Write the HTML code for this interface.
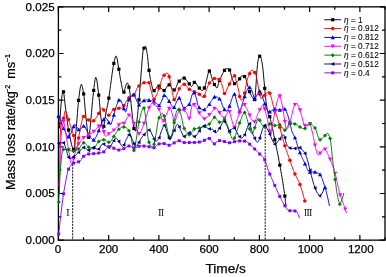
<!DOCTYPE html>
<html><head><meta charset="utf-8"><title>Mass loss rate</title>
<style>html,body{margin:0;padding:0;background:#fff;}body{width:386px;height:277px;overflow:hidden;position:relative;}</style>
</head><body>
<svg width="386" height="277" viewBox="0 0 386 277" style="position:absolute;left:0;top:0;display:block">
<rect x="0" y="0" width="386" height="277" fill="#fff"/>
<rect x="58.4" y="6.85" width="326.6" height="233.3" fill="none" stroke="#000" stroke-width="1.3"/>
<path d="M58.4,240.15 v-5.2 M58.4,6.85 v5.2 M83.52,240.15 v-3.0 M83.52,6.85 v3.0 M108.65,240.15 v-5.2 M108.65,6.85 v5.2 M133.77,240.15 v-3.0 M133.77,6.85 v3.0 M158.89,240.15 v-5.2 M158.89,6.85 v5.2 M184.02,240.15 v-3.0 M184.02,6.85 v3.0 M209.14,240.15 v-5.2 M209.14,6.85 v5.2 M234.26,240.15 v-3.0 M234.26,6.85 v3.0 M259.38,240.15 v-5.2 M259.38,6.85 v5.2 M284.51,240.15 v-3.0 M284.51,6.85 v3.0 M309.63,240.15 v-5.2 M309.63,6.85 v5.2 M334.75,240.15 v-3.0 M334.75,6.85 v3.0 M359.88,240.15 v-5.2 M359.88,6.85 v5.2 M385,240.15 v-3.0 M385,6.85 v3.0 M58.4,240.15 h5.2 M385.0,240.15 h-5.2 M58.4,216.82 h3.0 M385.0,216.82 h-3.0 M58.4,193.49 h5.2 M385.0,193.49 h-5.2 M58.4,170.16 h3.0 M385.0,170.16 h-3.0 M58.4,146.83 h5.2 M385.0,146.83 h-5.2 M58.4,123.5 h3.0 M385.0,123.5 h-3.0 M58.4,100.17 h5.2 M385.0,100.17 h-5.2 M58.4,76.84 h3.0 M385.0,76.84 h-3.0 M58.4,53.51 h5.2 M385.0,53.51 h-5.2 M58.4,30.18 h3.0 M385.0,30.18 h-3.0 M58.4,6.85 h5.2 M385.0,6.85 h-5.2" stroke="#000" stroke-width="1.2" fill="none"/>
<g stroke="#000" stroke-width="0.95" stroke-dasharray="2.1 1.05" fill="none">
<line x1="72.7" y1="164" x2="72.7" y2="240.15"/>
<line x1="265.2" y1="124" x2="265.2" y2="240.15"/>
</g>
<path d="M59.5,128 L60,118.9 L60.5,110.99 L61,105 L61.5,100.18 L62,95.78 L62.5,92.44 L63,90.85 L63.5,91.68 L64,94.74 L64.5,99.11 L65,103.84 L65.5,108 L66,111.7 L66.5,115.56 L67,119.44 L67.5,123.19 L68,126.65 L68.5,129.69 L69,132.24 L69.5,134.77 L70,137.31 L70.5,139.78 L71,142.11 L71.5,144.24 L72,146.09 L72.5,147.59 L73,148.69 L73.5,149.3 L74,149.16 L74.5,146.72 L75,142.28 L75.5,136.65 L76,130.63 L76.5,125 L77,119.16 L77.5,112.61 L78,106.33 L78.5,101.3 L79,97.11 L79.5,92.97 L80,89.25 L80.5,86.34 L81,84.61 L81.5,84.4 L82,85.48 L82.5,87.48 L83,90.09 L83.5,93.01 L84,96.37 L84.5,101.33 L85,107.19 L85.5,113.05 L86,118 L86.5,122.47 L87,127.15 L87.5,131.5 L88,135 L88.5,137.12 L89,137.2 L89.5,134.29 L90,129.27 L90.5,123.42 L91,118 L91.5,112.85 L92,107.29 L92.5,101.74 L93,96.65 L93.5,92.31 L94,87.81 L94.5,83.44 L95,79.83 L95.5,77.61 L96,77.34 L96.5,78.77 L97,81.44 L97.5,84.99 L98,89.04 L98.5,93.2 L99,97.28 L99.5,102.37 L100,108.06 L100.5,113.55 L101,118 L101.5,121.87 L102,125.58 L102.5,128.23 L103,128.96 L103.5,127.66 L104,125 L104.5,121.59 L105,118.05 L105.5,115 L106,112.5 L106.5,110.12 L107,107.78 L107.5,105.37 L108,102.81 L108.5,100 L109,96.79 L109.5,93.2 L110,89.42 L110.5,85.62 L111,82 L111.5,78.39 L112,74.67 L112.5,71.04 L113,67.74 L113.5,64.97 L114,62.63 L114.5,60.28 L115,58.2 L115.5,56.65 L116,55.92 L116.5,56.41 L117,58.25 L117.5,60.97 L118,64.1 L118.5,67.19 L119,69.98 L119.5,73.08 L120,76.29 L120.5,79.36 L121,82 L121.5,84.48 L122,87.05 L122.5,89.39 L123,91.21 L123.5,92.2 L124,92 L124.5,90.48 L125,88.34 L125.5,86.33 L126,85.07 L126.5,84.02 L127,83.23 L127.5,83.02 L128,83.79 L128.5,85.41 L129,87.58 L129.5,90 L130,93.4 L130.5,98.13 L131,103.3 L131.5,108 L132,112.5 L132.5,117.32 L133,121.96 L133.5,125.93 L134,128.71 L134.5,129.96 L135,130.7 L135.5,131 L136,129.09 L136.5,124.73 L137,120 L137.5,115.48 L138,110.47 L138.5,105.13 L139,99.6 L139.5,93.7 L140,87.4 L140.5,81.05 L141,75 L141.5,68.67 L142,61.93 L142.5,55.83 L143,51.41 L143.5,49.45 L144,48.23 L144.5,47.26 L145,46.6 L145.5,46.31 L146,47.03 L146.5,49.47 L147,52.7 L147.5,56.28 L148,61.17 L148.5,66.16 L149,70.09 L149.5,73.6 L150,76.81 L150.5,79.65 L151,82 L151.5,84.14 L152,86.26 L152.5,88.16 L153,89.66 L153.5,90.54 L154,90.67 L154.5,90.38 L155,89.84 L155.5,89.13 L156,88.33 L156.5,87.52 L157,86.79 L157.5,86.21 L158,85.86 L158.5,85.82 L159,86.03 L159.5,86.42 L160,86.92 L160.5,87.48 L161,88.02 L161.5,88.5 L162,88.99 L162.5,89.54 L163,90.06 L163.5,90.45 L164,90.6 L164.5,90.38 L165,89.8 L165.5,89.03 L166,88.22 L166.5,87.5 L167,86.78 L167.5,85.98 L168,85.26 L168.5,84.79 L169,84.73 L169.5,85.03 L170,85.57 L170.5,86.23 L171,86.91 L171.5,87.5 L172,88.09 L172.5,88.75 L173,89.36 L173.5,89.82 L174,90 L174.5,89.8 L175,89.27 L175.5,88.46 L176,87.45 L176.5,86.33 L177,85.15 L177.5,83.99 L178,82.93 L178.5,82.05 L179,81.4 L179.5,80.9 L180,80.39 L180.5,79.9 L181,79.44 L181.5,79.02 L182,78.65 L182.5,78.36 L183,78.14 L183.5,78.02 L184,78.02 L184.5,78.18 L185,78.5 L185.5,78.94 L186,79.49 L186.5,80.11 L187,80.77 L187.5,81.46 L188,82.13 L188.5,82.76 L189,83.39 L189.5,84.2 L190,85.06 L190.5,85.82 L191,86.35 L191.5,86.49 L192,86.13 L192.5,85.39 L193,84.45 L193.5,83.49 L194,82.7 L194.5,82.25 L195,82.26 L195.5,82.62 L196,83.21 L196.5,83.97 L197,84.83 L197.5,85.7 L198,86.51 L198.5,87.19 L199,87.7 L199.5,88.23 L200,88.76 L200.5,89.27 L201,89.72 L201.5,90.08 L202,90.31 L202.5,90.4 L203,90.17 L203.5,89.56 L204,88.7 L204.5,87.7 L205,86.43 L205.5,84.52 L206,82.32 L206.5,80.14 L207,78.26 L207.5,76.2 L208,74.1 L208.5,72.32 L209,71.21 L209.5,71.07 L210,71.81 L210.5,73.16 L211,74.88 L211.5,76.75 L212,78.54 L212.5,80 L213,81.23 L213.5,82.44 L214,83.59 L214.5,84.62 L215,85.5 L215.5,86.33 L216,87.14 L216.5,87.76 L217,88 L217.5,87.18 L218,85.29 L218.5,83.19 L219,81.67 L219.5,80.41 L220,79.23 L220.5,78.12 L221,77.05 L221.5,76 L222,74.95 L222.5,73.9 L223,72.89 L223.5,71.95 L224,71.1 L224.5,70.33 L225,69.53 L225.5,68.85 L226,68.51 L226.5,68.52 L227,68.62 L227.5,68.78 L228,69 L228.5,69.29 L229,69.62 L229.5,70 L230,70.88 L230.5,72.47 L231,74.43 L231.5,76.39 L232,78 L232.5,79.43 L233,80.92 L233.5,82.26 L234,83.23 L234.5,83.6 L235,83.52 L235.5,83.3 L236,82.96 L236.5,82.52 L237,82.02 L237.5,81.47 L238,80.9 L238.5,80.33 L239,79.76 L239.5,78.95 L240,78 L240.5,77.08 L241,76.36 L241.5,76.01 L242,76.01 L242.5,76.05 L243,76.12 L243.5,76.22 L244,76.35 L244.5,76.5 L245,76.74 L245.5,77.61 L246,79.07 L246.5,80.89 L247,82.88 L247.5,84.82 L248,86.5 L248.5,88.03 L249,89.63 L249.5,91.2 L250,92.67 L250.5,93.97 L251,95 L251.5,95.88 L252,96.76 L252.5,97.58 L253,98.32 L253.5,98.92 L254,99.36 L254.5,99.58 L255,98.3 L255.5,92.22 L256,85 L256.5,77.35 L257,69.42 L257.5,64.33 L258,60.82 L258.5,58.6 L259,57.27 L259.5,56.37 L260,56.27 L260.5,56.94 L261,58.08 L261.5,59.66 L262,62.37 L262.5,65.79 L263,69.82 L263.5,74.91 L264,80.5 L264.5,85.97 L265,91.24 L265.5,96.64 L266,101.43 L266.5,105.1 L267,108.27 L267.5,110.83 L268,112.62 L268.5,113.83 L269,114.82 L269.5,115.94 L270,117.5 L270.5,119.5 L271,121.74 L271.5,124 L272,126.26 L272.5,128.59 L273,130.98 L273.5,133.41 L274,135.85 L274.5,138.29 L275,140.71 L275.5,143.12 L276,145.54 L276.5,147.97 L277,150.43 L277.5,152.91 L278,155.43 L278.5,158.01 L279,160.64 L279.5,163.35 L280,166.07 L280.5,168.8 L281,171.57 L281.5,174.38 L282,177.27 L282.5,180.24 L283,183.32 L283.5,186.53 L284,189.88 L284.5,193.4 L285,197.28 L285.5,201.55 L286,206" fill="none" stroke="#000000" stroke-width="0.95" stroke-linejoin="round" stroke-linecap="round"/>
<g><rect x="61.93" y="90.21" width="3.2" height="3.2" fill="#000000"/><rect x="66.96" y="128.42" width="3.2" height="3.2" fill="#000000"/><rect x="71.99" y="147.75" width="3.2" height="3.2" fill="#000000"/><rect x="77.02" y="98.71" width="3.2" height="3.2" fill="#000000"/><rect x="82.05" y="92.3" width="3.2" height="3.2" fill="#000000"/><rect x="87.08" y="135.84" width="3.2" height="3.2" fill="#000000"/><rect x="92.11" y="88.84" width="3.2" height="3.2" fill="#000000"/><rect x="97.14" y="93.53" width="3.2" height="3.2" fill="#000000"/><rect x="102.17" y="124.75" width="3.2" height="3.2" fill="#000000"/><rect x="107.2" y="96.53" width="3.2" height="3.2" fill="#000000"/><rect x="112.23" y="61.83" width="3.2" height="3.2" fill="#000000"/><rect x="117.26" y="67.58" width="3.2" height="3.2" fill="#000000"/><rect x="122.29" y="90.58" width="3.2" height="3.2" fill="#000000"/><rect x="127.32" y="85.61" width="3.2" height="3.2" fill="#000000"/><rect x="132.35" y="126.9" width="3.2" height="3.2" fill="#000000"/><rect x="137.38" y="98.22" width="3.2" height="3.2" fill="#000000"/><rect x="142.41" y="46.61" width="3.2" height="3.2" fill="#000000"/><rect x="147.44" y="68.78" width="3.2" height="3.2" fill="#000000"/><rect x="152.47" y="89.05" width="3.2" height="3.2" fill="#000000"/><rect x="157.5" y="84.5" width="3.2" height="3.2" fill="#000000"/><rect x="162.53" y="88.98" width="3.2" height="3.2" fill="#000000"/><rect x="167.56" y="83.19" width="3.2" height="3.2" fill="#000000"/><rect x="172.59" y="88.37" width="3.2" height="3.2" fill="#000000"/><rect x="177.62" y="79.58" width="3.2" height="3.2" fill="#000000"/><rect x="182.65" y="76.48" width="3.2" height="3.2" fill="#000000"/><rect x="187.68" y="82.23" width="3.2" height="3.2" fill="#000000"/><rect x="192.71" y="80.77" width="3.2" height="3.2" fill="#000000"/><rect x="197.74" y="86.46" width="3.2" height="3.2" fill="#000000"/><rect x="202.77" y="86.37" width="3.2" height="3.2" fill="#000000"/><rect x="207.8" y="69.42" width="3.2" height="3.2" fill="#000000"/><rect x="212.83" y="82.88" width="3.2" height="3.2" fill="#000000"/><rect x="217.86" y="78.9" width="3.2" height="3.2" fill="#000000"/><rect x="222.89" y="68.75" width="3.2" height="3.2" fill="#000000"/><rect x="227.92" y="68.42" width="3.2" height="3.2" fill="#000000"/><rect x="232.95" y="82" width="3.2" height="3.2" fill="#000000"/><rect x="237.98" y="77.21" width="3.2" height="3.2" fill="#000000"/><rect x="243.01" y="74.93" width="3.2" height="3.2" fill="#000000"/><rect x="248.04" y="90.03" width="3.2" height="3.2" fill="#000000"/><rect x="253.07" y="98" width="3.2" height="3.2" fill="#000000"/><rect x="258.1" y="54.62" width="3.2" height="3.2" fill="#000000"/><rect x="263.13" y="86.74" width="3.2" height="3.2" fill="#000000"/><rect x="268.16" y="115.09" width="3.2" height="3.2" fill="#000000"/><rect x="273.19" y="138.09" width="3.2" height="3.2" fill="#000000"/><rect x="278.22" y="163.49" width="3.2" height="3.2" fill="#000000"/><rect x="283.25" y="194.46" width="3.2" height="3.2" fill="#000000"/></g>
<path d="M59.5,194 L60,145.59 L60.5,128.92 L61,122 L61.5,120.68 L62,119.92 L62.5,119.46 L63,119.03 L63.5,118.37 L64,117.13 L64.5,113.47 L65,111 L65.5,111.27 L66,112.01 L66.5,113.12 L67,114.5 L67.5,116.05 L68,117.67 L68.5,119.25 L69,120.77 L69.5,122.51 L70,124.39 L70.5,126.26 L71,128 L71.5,129.48 L72,130.79 L72.5,132.06 L73,133.44 L73.5,135.08 L74,137.28 L74.5,141.13 L75,145.66 L75.5,149.43 L76,151 L76.5,150.15 L77,147.94 L77.5,144.92 L78,141.6 L78.5,138.54 L79,135.81 L79.5,132.9 L80,129.98 L80.5,127.28 L81,125 L81.5,122.92 L82,120.8 L82.5,118.88 L83,117.38 L83.5,116.52 L84,116.43 L84.5,116.68 L85,117.09 L85.5,117.58 L86,118.08 L86.5,118.5 L87,118.85 L87.5,119.2 L88,119.53 L88.5,119.86 L89,120.18 L89.5,120.5 L90,120.86 L90.5,121.26 L91,121.62 L91.5,121.89 L92,122 L92.5,121.87 L93,121.54 L93.5,121.07 L94,120.54 L94.5,120 L95,119.43 L95.5,118.77 L96,118.04 L96.5,117.24 L97,116.41 L97.5,115.55 L98,114.68 L98.5,113.82 L99,112.95 L99.5,111.88 L100,110.7 L100.5,109.55 L101,108.55 L101.5,107.86 L102,107.6 L102.5,108 L103,108.88 L103.5,109.7 L104,110.36 L104.5,111.08 L105,111.81 L105.5,112.54 L106,113.24 L106.5,113.87 L107,114.41 L107.5,114.83 L108,115.1 L108.5,115.2 L109,115.07 L109.5,114.72 L110,114.19 L110.5,113.53 L111,112.79 L111.5,112.02 L112,111.27 L112.5,110.59 L113,110.02 L113.5,109.62 L114,109.41 L114.5,109.25 L115,109.11 L115.5,108.99 L116,108.89 L116.5,108.79 L117,108.7 L117.5,108.6 L118,108.5 L118.5,108.4 L119,108.33 L119.5,108.26 L120,108.2 L120.5,108.13 L121,108.05 L121.5,107.94 L122,107.81 L122.5,107.64 L123,107.22 L123.5,106.34 L124,105.35 L124.5,104.51 L125,103.64 L125.5,102.73 L126,101.81 L126.5,100.92 L127,100.08 L127.5,99.32 L128,98.67 L128.5,98.16 L129,97.8 L129.5,97.53 L130,97.31 L130.5,97.12 L131,96.91 L131.5,96.67 L132,96.37 L132.5,96.04 L133,95.66 L133.5,95.23 L134,94.73 L134.5,94.14 L135,93.24 L135.5,92.11 L136,90.84 L136.5,89.56 L137,88.36 L137.5,87.37 L138,86.7 L138.5,86.32 L139,86 L139.5,85.63 L140,85.22 L140.5,84.8 L141,84.37 L141.5,83.96 L142,83.58 L142.5,83.26 L143,83 L143.5,82.84 L144,82.76 L144.5,82.69 L145,82.63 L145.5,82.57 L146,82.52 L146.5,82.48 L147,82.45 L147.5,82.42 L148,82.41 L148.5,82.4 L149,82.79 L149.5,84.14 L150,86.11 L150.5,88.3 L151,90.32 L151.5,92.01 L152,93.92 L152.5,95.87 L153,97.6 L153.5,98.83 L154,99.3 L154.5,98.97 L155,98.14 L155.5,97.06 L156,96 L156.5,94.96 L157,93.81 L157.5,92.57 L158,91.27 L158.5,89.94 L159,88.55 L159.5,86.98 L160,85.27 L160.5,83.51 L161,81.8 L161.5,80.21 L162,78.82 L162.5,77.73 L163,76.95 L163.5,76.21 L164,75.5 L164.5,74.84 L165,74.26 L165.5,73.76 L166,73.38 L166.5,73.12 L167,73 L167.5,73.21 L168,73.96 L168.5,75.06 L169,76.3 L169.5,77.97 L170,80.29 L170.5,82.95 L171,85.62 L171.5,88 L172,90.33 L172.5,92.89 L173,95.41 L173.5,97.61 L174,99.22 L174.5,99.98 L175,99.68 L175.5,98.59 L176,97.05 L176.5,95.4 L177,94 L177.5,92.8 L178,91.54 L178.5,90.31 L179,89.14 L179.5,88.11 L180,87.28 L180.5,86.68 L181,86.14 L181.5,85.63 L182,85.17 L182.5,84.77 L183,84.47 L183.5,84.27 L184,84.2 L184.5,84.31 L185,84.6 L185.5,85.04 L186,85.58 L186.5,86.2 L187,86.85 L187.5,87.48 L188,88.08 L188.5,88.58 L189,88.99 L189.5,89.38 L190,89.76 L190.5,90.12 L191,90.45 L191.5,90.75 L192,91 L192.5,91.21 L193,91.39 L193.5,91.55 L194,91.69 L194.5,91.82 L195,91.95 L195.5,92.08 L196,92.22 L196.5,92.37 L197,92.55 L197.5,92.76 L198,93.02 L198.5,93.38 L199,93.82 L199.5,94.32 L200,94.85 L200.5,95.38 L201,95.91 L201.5,96.39 L202,96.82 L202.5,97.16 L203,97.39 L203.5,97.5 L204,97.16 L204.5,95.98 L205,94.31 L205.5,92.53 L206,91 L206.5,89.69 L207,88.35 L207.5,87.02 L208,85.75 L208.5,84.6 L209,83.62 L209.5,82.82 L210,82.12 L210.5,81.5 L211,80.94 L211.5,80.44 L212,80 L212.5,79.57 L213,79.14 L213.5,78.77 L214,78.5 L214.5,78.4 L215,78.41 L215.5,78.45 L216,78.51 L216.5,78.59 L217,78.7 L217.5,78.84 L218,79 L218.5,79.18 L219,79.39 L219.5,79.62 L220,79.97 L220.5,80.84 L221,82.12 L221.5,83.58 L222,85 L222.5,86.63 L223,88.65 L223.5,90.7 L224,92.45 L224.5,93.55 L225,93.67 L225.5,92.93 L226,91.67 L226.5,90.24 L227,89 L227.5,87.98 L228,86.99 L228.5,86.02 L229,85.02 L229.5,84 L230,82.89 L230.5,81.7 L231,80.52 L231.5,79.43 L232,78.5 L232.5,77.63 L233,76.76 L233.5,76.04 L234,75.64 L234.5,75.78 L235,76.78 L235.5,78.36 L236,80.2 L236.5,82 L237,83.74 L237.5,85.66 L238,87.75 L238.5,90.03 L239,92.56 L239.5,95.98 L240,98.15 L240.5,99.55 L241,100.28 L241.5,100.21 L242,99.86 L242.5,99.3 L243,98.56 L243.5,97.69 L244,96.27 L244.5,93.75 L245,90.77 L245.5,88 L246,85.43 L246.5,82.83 L247,80.51 L247.5,78.77 L248,77.37 L248.5,76.18 L249,75.11 L249.5,74.07 L250,72.94 L250.5,71.85 L251,70.91 L251.5,70.25 L252,70 L252.5,70.13 L253,70.47 L253.5,70.99 L254,71.63 L254.5,72.35 L255,73.13 L255.5,74.23 L256,75.64 L256.5,77.29 L257,79.25 L257.5,81.94 L258,85.07 L258.5,88.26 L259,91.15 L259.5,93.4 L260,95.5 L260.5,97.39 L261,98.58 L261.5,98.71 L262,98.39 L262.5,97.86 L263,97.22 L263.5,96.56 L264,96 L264.5,95.48 L265,94.9 L265.5,94.28 L266,93.67 L266.5,93.09 L267,92.56 L267.5,92.12 L268,91.8 L268.5,91.62 L269,91.71 L269.5,92.51 L270,93.84 L270.5,95.43 L271,97 L271.5,98.68 L272,100.65 L272.5,102.75 L273,104.78 L273.5,106.59 L274,108.2 L274.5,109.71 L275,111.15 L275.5,112.55 L276,113.93 L276.5,115.34 L277,116.8 L277.5,118.34 L278,120 L278.5,121.83 L279,123.8 L279.5,125.87 L280,127.97 L280.5,130.03 L281,132 L281.5,133.89 L282,135.77 L282.5,137.63 L283,139.45 L283.5,141.24 L284,142.97 L284.5,144.65 L285,146.26 L285.5,147.82 L286,149.33 L286.5,150.8 L287,152.24 L287.5,153.66 L288,155.07 L288.5,156.47 L289,157.87 L289.5,159.28 L290,160.71 L290.5,162.14 L291,163.58 L291.5,165.01 L292,166.42 L292.5,167.81 L293,169.17 L293.5,170.49 L294,171.77 L294.5,172.99 L295,174.13 L295.5,175.21 L296,176.22 L296.5,177.21 L297,178.18 L297.5,179.15 L298,180.14 L298.5,181.18 L299,182.27 L299.5,183.44 L300,184.7 L300.5,186.07 L301,187.52 L301.5,189.07 L302,190.69 L302.5,192.39 L303,194.16 L303.5,195.99 L304,197.88 L304.5,199.81 L304.8,201" fill="none" stroke="#ff0000" stroke-width="0.95" stroke-linejoin="round" stroke-linecap="round"/>
<g><circle cx="63.53" cy="118.32" r="1.76" fill="#ff0000"/><circle cx="68.56" cy="119.43" r="1.76" fill="#ff0000"/><circle cx="73.59" cy="135.42" r="1.76" fill="#ff0000"/><circle cx="78.62" cy="137.9" r="1.76" fill="#ff0000"/><circle cx="83.65" cy="116.42" r="1.76" fill="#ff0000"/><circle cx="88.68" cy="119.98" r="1.76" fill="#ff0000"/><circle cx="93.71" cy="120.85" r="1.76" fill="#ff0000"/><circle cx="98.74" cy="113.42" r="1.76" fill="#ff0000"/><circle cx="103.77" cy="110.05" r="1.76" fill="#ff0000"/><circle cx="108.8" cy="115.15" r="1.76" fill="#ff0000"/><circle cx="113.83" cy="109.47" r="1.76" fill="#ff0000"/><circle cx="118.86" cy="108.35" r="1.76" fill="#ff0000"/><circle cx="123.89" cy="105.56" r="1.76" fill="#ff0000"/><circle cx="128.92" cy="97.85" r="1.76" fill="#ff0000"/><circle cx="133.95" cy="94.79" r="1.76" fill="#ff0000"/><circle cx="138.98" cy="86.01" r="1.76" fill="#ff0000"/><circle cx="144.01" cy="82.76" r="1.76" fill="#ff0000"/><circle cx="149.04" cy="82.86" r="1.76" fill="#ff0000"/><circle cx="154.07" cy="99.29" r="1.76" fill="#ff0000"/><circle cx="159.1" cy="88.25" r="1.76" fill="#ff0000"/><circle cx="164.13" cy="75.32" r="1.76" fill="#ff0000"/><circle cx="169.16" cy="76.74" r="1.76" fill="#ff0000"/><circle cx="174.19" cy="99.63" r="1.76" fill="#ff0000"/><circle cx="179.22" cy="88.67" r="1.76" fill="#ff0000"/><circle cx="184.25" cy="84.23" r="1.76" fill="#ff0000"/><circle cx="189.28" cy="89.21" r="1.76" fill="#ff0000"/><circle cx="194.31" cy="91.77" r="1.76" fill="#ff0000"/><circle cx="199.34" cy="94.15" r="1.76" fill="#ff0000"/><circle cx="204.37" cy="96.35" r="1.76" fill="#ff0000"/><circle cx="209.4" cy="82.97" r="1.76" fill="#ff0000"/><circle cx="214.43" cy="78.4" r="1.76" fill="#ff0000"/><circle cx="219.46" cy="79.6" r="1.76" fill="#ff0000"/><circle cx="224.49" cy="93.53" r="1.76" fill="#ff0000"/><circle cx="229.52" cy="83.96" r="1.76" fill="#ff0000"/><circle cx="234.55" cy="75.85" r="1.76" fill="#ff0000"/><circle cx="239.58" cy="96.47" r="1.76" fill="#ff0000"/><circle cx="244.61" cy="93.11" r="1.76" fill="#ff0000"/><circle cx="249.64" cy="73.76" r="1.76" fill="#ff0000"/><circle cx="254.67" cy="72.6" r="1.76" fill="#ff0000"/><circle cx="259.7" cy="94.23" r="1.76" fill="#ff0000"/><circle cx="264.73" cy="95.22" r="1.76" fill="#ff0000"/><circle cx="269.76" cy="93.15" r="1.76" fill="#ff0000"/><circle cx="274.79" cy="110.55" r="1.76" fill="#ff0000"/><circle cx="279.82" cy="127.22" r="1.76" fill="#ff0000"/><circle cx="284.85" cy="145.78" r="1.76" fill="#ff0000"/><circle cx="289.88" cy="160.37" r="1.76" fill="#ff0000"/><circle cx="294.91" cy="173.93" r="1.76" fill="#ff0000"/><circle cx="299.94" cy="184.54" r="1.76" fill="#ff0000"/><circle cx="304.8" cy="201" r="1.76" fill="#ff0000"/></g>
<path d="M58.5,116 L59,116.86 L59.5,117.87 L60,119 L60.5,120.37 L61,121.97 L61.5,123.59 L62,125 L62.5,126.19 L63,127.28 L63.5,128.31 L64,129.3 L64.5,130.26 L65,131.22 L65.5,132.21 L66,133.38 L66.5,134.65 L67,135.82 L67.5,136.67 L68,137 L68.5,136.82 L69,136.35 L69.5,135.65 L70,134.81 L70.5,133.9 L71,133 L71.5,131.96 L72,130.69 L72.5,129.29 L73,127.9 L73.5,126.64 L74,125.57 L74.5,124.58 L75,124.48 L75.5,125.01 L76,125.84 L76.5,126.75 L77,127.5 L77.5,128.15 L78,128.84 L78.5,129.46 L79,129.88 L79.5,129.99 L80,129.75 L80.5,129.26 L81,128.64 L81.5,128.02 L82,127.5 L82.5,127.03 L83,126.54 L83.5,126.16 L84,126 L84.5,126.27 L85,126.98 L85.5,127.94 L86,129.01 L86.5,130 L87,130.99 L87.5,132.1 L88,133.2 L88.5,134.2 L89,135 L89.5,135.78 L90,136.56 L90.5,137.32 L91,138.03 L91.5,138.67 L92,139.21 L92.5,139.63 L93,139.9 L93.5,140 L94,139.81 L94.5,139.32 L95,138.62 L95.5,137.81 L96,137 L96.5,136.1 L97,135.02 L97.5,133.8 L98,132.52 L98.5,131.24 L99,130 L99.5,128.75 L100,127.43 L100.5,126.08 L101,124.76 L101.5,123.52 L102,122.42 L102.5,121.5 L103,120.67 L103.5,119.83 L104,119.05 L104.5,118.38 L105,117.89 L105.5,117.62 L106,117.71 L106.5,118.27 L107,119.14 L107.5,120.12 L108,121 L108.5,121.91 L109,122.95 L109.5,123.92 L110,124.6 L110.5,124.78 L111,124.2 L111.5,122.99 L112,121.4 L112.5,119.65 L113,118 L113.5,116.31 L114,114.38 L114.5,112.34 L115,110.34 L115.5,108.51 L116,107 L116.5,105.65 L117,104.28 L117.5,102.94 L118,101.73 L118.5,100.69 L119,99.92 L119.5,99.48 L120,99.45 L120.5,99.94 L121,100.86 L121.5,102.07 L122,103.42 L122.5,104.77 L123,106 L123.5,107.34 L124,108.91 L124.5,110.42 L125,111.55 L125.5,112 L126,111.34 L126.5,109.62 L127,107.26 L127.5,104.67 L128,102.27 L128.5,100.46 L129,99.44 L129.5,98.54 L130,97.68 L130.5,96.88 L131,96.17 L131.5,95.55 L132,95.05 L132.5,94.68 L133,94.46 L133.5,94.41 L134,94.83 L134.5,95.68 L135,96.79 L135.5,97.96 L136,99 L136.5,100.06 L137,101.29 L137.5,102.54 L138,103.63 L138.5,104.4 L139,104.7 L139.5,104.54 L140,104.13 L140.5,103.55 L141,102.87 L141.5,102.19 L142,101.59 L142.5,101.14 L143,100.9 L143.5,100.69 L144,100.51 L144.5,100.34 L145,100.2 L145.5,100.09 L146,100.02 L146.5,100 L147,100.01 L147.5,100.05 L148,100.11 L148.5,100.18 L149,100.27 L149.5,100.36 L150,100.46 L150.5,100.56 L151,100.66 L151.5,100.77 L152,100.9 L152.5,101.04 L153,101.21 L153.5,101.39 L154,101.6 L154.5,101.88 L155,102.26 L155.5,102.7 L156,103.16 L156.5,103.61 L157,104 L157.5,104.39 L158,104.81 L158.5,105.17 L159,105.38 L159.5,105.28 L160,104.62 L160.5,103.57 L161,102.34 L161.5,101.13 L162,100.09 L162.5,98.88 L163,97.58 L163.5,96.39 L164,95.53 L164.5,95.2 L165,95.33 L165.5,95.7 L166,96.26 L166.5,96.96 L167,97.76 L167.5,98.61 L168,99.46 L168.5,100.27 L169,101 L169.5,101.74 L170,102.58 L170.5,103.49 L171,104.41 L171.5,105.29 L172,106.09 L172.5,106.75 L173,107.23 L173.5,107.48 L174,107.37 L174.5,106.68 L175,105.58 L175.5,104.29 L176,103.02 L176.5,102 L177,101.1 L177.5,100.15 L178,99.25 L178.5,98.52 L179,98.08 L179.5,98.08 L180,98.86 L180.5,100.18 L181,101.68 L181.5,103 L182,104.27 L182.5,105.7 L183,107.03 L183.5,108.02 L184,108.4 L184.5,108.28 L185,107.96 L185.5,107.51 L186,106.99 L186.5,106.47 L187,106 L187.5,105.62 L188,105.28 L188.5,104.91 L189,104.47 L189.5,103.89 L190,102.81 L190.5,100.87 L191,98.57 L191.5,96.44 L192,95 L192.5,94.09 L193,93.29 L193.5,92.72 L194,92.5 L194.5,92.94 L195,94.05 L195.5,95.51 L196,97 L196.5,98.79 L197,101.08 L197.5,103.45 L198,105.48 L198.5,106.77 L199,107.31 L199.5,107.78 L200,108.2 L200.5,108.58 L201,108.9 L201.5,109.18 L202,109.39 L202.5,109.55 L203,109.66 L203.5,109.7 L204,109.66 L204.5,109.49 L205,109.21 L205.5,108.83 L206,108.38 L206.5,107.86 L207,107.3 L207.5,106.7 L208,106.09 L208.5,105.48 L209,104.88 L209.5,104.17 L210,103.33 L210.5,102.43 L211,101.54 L211.5,100.7 L212,100 L212.5,99.35 L213,98.67 L213.5,98.02 L214,97.43 L214.5,96.97 L215,96.68 L215.5,96.6 L216,96.66 L216.5,96.81 L217,97.02 L217.5,97.3 L218,97.64 L218.5,98.03 L219,98.46 L219.5,98.92 L220,99.4 L220.5,100.13 L221,101.26 L221.5,102.65 L222,104.17 L222.5,105.7 L223,107.1 L223.5,108.24 L224,109 L224.5,109.51 L225,110 L225.5,110.42 L226,110.74 L226.5,110.95 L227,110.99 L227.5,110.57 L228,109.7 L228.5,108.54 L229,107.25 L229.5,106 L230,104.67 L230.5,103.12 L231,101.48 L231.5,99.89 L232,98.5 L232.5,97.13 L233,95.7 L233.5,94.51 L234,93.82 L234.5,93.97 L235,95.16 L235.5,97 L236,99.09 L236.5,101 L237,102.82 L237.5,104.8 L238,106.76 L238.5,108.53 L239,109.97 L239.5,111.28 L240,111.5 L240.5,110.49 L241,108.76 L241.5,106.78 L242,105 L242.5,103.41 L243,101.73 L243.5,100.02 L244,98.34 L244.5,96.74 L245,95.28 L245.5,94 L246,92.79 L246.5,91.54 L247,90.32 L247.5,89.21 L248,88.27 L248.5,87.59 L249,87.23 L249.5,87.27 L250,87.66 L250.5,88.31 L251,89.14 L251.5,90.06 L252,91 L252.5,92.28 L253,94.05 L253.5,95.91 L254,97.49 L254.5,98.41 L255,98.4 L255.5,97.83 L256,96.93 L256.5,95.88 L257,94.84 L257.5,94 L258,93.25 L258.5,92.45 L259,91.73 L259.5,91.2 L260,91 L260.5,91.41 L261,92.48 L261.5,93.93 L262,95.53 L262.5,97 L263,98.42 L263.5,99.98 L264,101.56 L264.5,103.07 L265,104.4 L265.5,105.67 L266,107.02 L266.5,108.35 L267,109.58 L267.5,110.63 L268,111.41 L268.5,111.84 L269,111.89 L269.5,111.8 L270,111.65 L270.5,111.45 L271,111.23 L271.5,111 L272,110.69 L272.5,110.26 L273,109.79 L273.5,109.37 L274,109.08 L274.5,109 L275,109.03 L275.5,109.1 L276,109.2 L276.5,109.32 L277,109.45 L277.5,109.58 L278,109.71 L278.5,109.82 L279,109.92 L279.5,109.98 L280,110 L280.5,109.97 L281,109.88 L281.5,109.76 L282,109.61 L282.5,109.45 L283,109.3 L283.5,109.16 L284,109.06 L284.5,109.01 L285,109.11 L285.5,109.7 L286,110.65 L286.5,111.81 L287,113 L287.5,114.35 L288,116.01 L288.5,117.85 L289,119.76 L289.5,121.62 L290,123.59 L290.5,125.69 L291,127.78 L291.5,129.74 L292,131.43 L292.5,132.76 L293,133.85 L293.5,134.81 L294,135.72 L294.5,136.69 L295,137.8 L295.5,139.11 L296,140.57 L296.5,142.14 L297,143.77 L297.5,145.44 L298,147.08 L298.5,148.67 L299,150.16 L299.5,151.51 L300,152.77 L300.5,153.99 L301,155.17 L301.5,156.31 L302,157.42 L302.5,158.5 L303,159.55 L303.5,160.59 L304,161.6 L304.5,162.66 L305,163.8 L305.5,164.99 L306,166.19 L306.5,167.37 L307,168.48 L307.5,169.5 L308,170.38 L308.5,171.09 L309,171.6 L309.5,171.87 L310,171.91 L310.5,171.93 L311,171.94 L311.5,171.94 L312,171.95 L312.5,171.96 L313,171.96 L313.5,171.97 L314,171.99 L314.5,172 L315,172.05 L315.5,172.14 L316,172.27 L316.5,172.43 L317,172.62 L317.5,172.84 L318,173.09 L318.5,173.37 L319,173.67 L319.5,174 L320,174.46 L320.5,175.17 L321,176.07 L321.5,177.16 L322,178.39 L322.5,179.74 L323,181.17 L323.5,182.67 L324,184.18 L324.5,185.7 L325,187.24 L325.5,188.91 L326,190.71 L326.5,192.62 L327,194.64 L327.5,196.76 L328,198.98 L328.5,201.28 L329,203.65 L329.4,205.6" fill="none" stroke="#0000ff" stroke-width="0.95" stroke-linejoin="round" stroke-linecap="round"/>
<g><polygon points="58.5,113.84 60.66,117.73 56.34,117.73" fill="#0000ff"/><polygon points="63.53,126.21 65.69,130.1 61.37,130.1" fill="#0000ff"/><polygon points="68.56,134.62 70.72,138.51 66.4,138.51" fill="#0000ff"/><polygon points="73.59,124.28 75.75,128.17 71.43,128.17" fill="#0000ff"/><polygon points="78.62,127.42 80.78,131.31 76.46,131.31" fill="#0000ff"/><polygon points="83.65,123.92 85.81,127.81 81.49,127.81" fill="#0000ff"/><polygon points="88.68,132.35 90.84,136.24 86.52,136.24" fill="#0000ff"/><polygon points="93.71,137.81 95.87,141.69 91.55,141.69" fill="#0000ff"/><polygon points="98.74,128.47 100.9,132.36 96.58,132.36" fill="#0000ff"/><polygon points="103.77,117.24 105.93,121.13 101.61,121.13" fill="#0000ff"/><polygon points="108.8,120.37 110.96,124.26 106.64,124.26" fill="#0000ff"/><polygon points="113.83,112.89 115.99,116.78 111.67,116.78" fill="#0000ff"/><polygon points="118.86,97.95 121.02,101.83 116.7,101.83" fill="#0000ff"/><polygon points="123.89,106.4 126.05,110.29 121.73,110.29" fill="#0000ff"/><polygon points="128.92,97.43 131.08,101.32 126.76,101.32" fill="#0000ff"/><polygon points="133.95,92.6 136.11,96.49 131.79,96.49" fill="#0000ff"/><polygon points="138.98,102.54 141.14,106.43 136.82,106.43" fill="#0000ff"/><polygon points="144.01,98.34 146.17,102.23 141.85,102.23" fill="#0000ff"/><polygon points="149.04,98.11 151.2,102 146.88,102" fill="#0000ff"/><polygon points="154.07,99.47 156.23,103.36 151.91,103.36" fill="#0000ff"/><polygon points="159.1,103.23 161.26,107.12 156.94,107.12" fill="#0000ff"/><polygon points="164.13,93.23 166.29,97.12 161.97,97.12" fill="#0000ff"/><polygon points="169.16,99.06 171.32,102.95 167,102.95" fill="#0000ff"/><polygon points="174.19,105.01 176.35,108.9 172.03,108.9" fill="#0000ff"/><polygon points="179.22,95.85 181.38,99.73 177.06,99.73" fill="#0000ff"/><polygon points="184.25,106.21 186.41,110.1 182.09,110.1" fill="#0000ff"/><polygon points="189.28,102 191.44,105.89 187.12,105.89" fill="#0000ff"/><polygon points="194.31,90.52 196.47,94.41 192.15,94.41" fill="#0000ff"/><polygon points="199.34,105.47 201.5,109.36 197.18,109.36" fill="#0000ff"/><polygon points="204.37,107.38 206.53,111.27 202.21,111.27" fill="#0000ff"/><polygon points="209.4,102.16 211.56,106.05 207.24,106.05" fill="#0000ff"/><polygon points="214.43,94.87 216.59,98.76 212.27,98.76" fill="#0000ff"/><polygon points="219.46,96.72 221.62,100.61 217.3,100.61" fill="#0000ff"/><polygon points="224.49,107.34 226.65,111.23 222.33,111.23" fill="#0000ff"/><polygon points="229.52,103.79 231.68,107.68 227.36,107.68" fill="#0000ff"/><polygon points="234.55,91.89 236.71,95.78 232.39,95.78" fill="#0000ff"/><polygon points="239.58,109.26 241.74,113.15 237.42,113.15" fill="#0000ff"/><polygon points="244.61,94.25 246.77,98.13 242.45,98.13" fill="#0000ff"/><polygon points="249.64,85.19 251.8,89.07 247.48,89.07" fill="#0000ff"/><polygon points="254.67,96.34 256.83,100.23 252.51,100.23" fill="#0000ff"/><polygon points="259.7,88.92 261.86,92.8 257.54,92.8" fill="#0000ff"/><polygon points="264.73,101.55 266.89,105.44 262.57,105.44" fill="#0000ff"/><polygon points="269.76,109.57 271.92,113.46 267.6,113.46" fill="#0000ff"/><polygon points="274.79,106.85 276.95,110.74 272.63,110.74" fill="#0000ff"/><polygon points="279.82,107.84 281.98,111.72 277.66,111.72" fill="#0000ff"/><polygon points="284.85,106.87 287.01,110.76 282.69,110.76" fill="#0000ff"/><polygon points="289.88,120.94 292.04,124.83 287.72,124.83" fill="#0000ff"/><polygon points="294.91,135.42 297.07,139.31 292.75,139.31" fill="#0000ff"/><polygon points="299.94,150.46 302.1,154.35 297.78,154.35" fill="#0000ff"/><polygon points="304.97,161.57 307.13,165.46 302.81,165.46" fill="#0000ff"/><polygon points="310,169.75 312.16,173.64 307.84,173.64" fill="#0000ff"/><polygon points="315.03,169.9 317.19,173.79 312.87,173.79" fill="#0000ff"/><polygon points="320.06,172.38 322.22,176.26 317.9,176.26" fill="#0000ff"/><polygon points="325.09,185.37 327.25,189.26 322.93,189.26" fill="#0000ff"/></g>
<path d="M59,186 L59.5,172.13 L60,160 L60.5,148.79 L61,138.69 L61.5,132 L62,127.99 L62.5,124.64 L63,122.35 L63.5,121.5 L64,122.46 L64.5,124.93 L65,128.26 L65.5,131.83 L66,135 L66.5,137.82 L67,140.73 L67.5,143.66 L68,146.55 L68.5,149.35 L69,152 L69.5,154.82 L70,157.9 L70.5,160.84 L71,163.26 L71.5,164.73 L72,164.89 L72.5,163.78 L73,161.81 L73.5,159.42 L74,157 L74.5,155 L75,153.32 L75.5,151.64 L76,150.02 L76.5,148.5 L77,147.14 L77.5,146 L78,145.02 L78.5,144.09 L79,143.22 L79.5,142.41 L80,141.66 L80.5,140.97 L81,140.34 L81.5,139.76 L82,139.24 L82.5,138.77 L83,138.35 L83.5,137.96 L84,137.6 L84.5,137.26 L85,136.95 L85.5,136.64 L86,136.35 L86.5,136.07 L87,135.79 L87.5,135.5 L88,135.2 L88.5,134.89 L89,134.57 L89.5,134.25 L90,133.95 L90.5,133.64 L91,133.34 L91.5,133.04 L92,132.73 L92.5,132.41 L93,132.07 L93.5,131.71 L94,131.33 L94.5,130.91 L95,130.43 L95.5,129.89 L96,129.3 L96.5,128.69 L97,128.09 L97.5,127.52 L98,127 L98.5,126.47 L99,125.89 L99.5,125.34 L100,124.86 L100.5,124.53 L101,124.4 L101.5,124.88 L102,126.1 L102.5,127.75 L103,129.49 L103.5,131 L104,132.51 L104.5,134.17 L105,135.57 L105.5,136.28 L106,136.21 L106.5,135.89 L107,135.43 L107.5,134.94 L108,134.5 L108.5,134.12 L109,133.75 L109.5,133.38 L110,133 L110.5,132.63 L111,132.27 L111.5,131.91 L112,131.55 L112.5,131.19 L113,130.81 L113.5,130.42 L114,130 L114.5,129.55 L115,129.08 L115.5,128.58 L116,128.06 L116.5,127.54 L117,127.02 L117.5,126.5 L118,126 L118.5,125.45 L119,124.83 L119.5,124.18 L120,123.57 L120.5,123.05 L121,122.68 L121.5,122.51 L122,122.57 L122.5,122.78 L123,123.06 L123.5,123.3 L124,123.4 L124.5,123.1 L125,122.31 L125.5,121.22 L126,120.02 L126.5,118.89 L127,118 L127.5,117.25 L128,116.48 L128.5,115.78 L129,115.26 L129.5,115.01 L130,115.14 L130.5,115.67 L131,116.49 L131.5,117.53 L132,118.69 L132.5,119.87 L133,121 L133.5,122.2 L134,123.58 L134.5,125.05 L135,126.52 L135.5,127.87 L136,129 L136.5,130.04 L137,131.11 L137.5,132.12 L138,132.96 L138.5,133.54 L139,133.75 L139.5,133.57 L140,133.07 L140.5,132.31 L141,131.32 L141.5,130.17 L142,128.9 L142.5,127.56 L143,126.21 L143.5,124.9 L144,123.62 L144.5,122.15 L145,120.54 L145.5,118.86 L146,117.17 L146.5,115.52 L147,114 L147.5,112.52 L148,111 L148.5,109.53 L149,108.15 L149.5,106.96 L150,106 L150.5,105.18 L151,104.37 L151.5,103.64 L152,103.05 L152.5,102.65 L153,102.5 L153.5,102.97 L154,103.75 L154.5,104.32 L155,104.83 L155.5,105.3 L156,105.75 L156.5,106.21 L157,106.69 L157.5,107.21 L158,107.81 L158.5,108.49 L159,109.28 L159.5,110.21 L160,111.73 L160.5,113.74 L161,115.85 L161.5,117.78 L162,120.02 L162.5,121.91 L163,122.48 L163.5,121.89 L164,120.72 L164.5,119.31 L165,118 L165.5,116.76 L166,115.44 L166.5,114.14 L167,113 L167.5,111.91 L168,110.77 L168.5,109.68 L169,108.77 L169.5,108.14 L170,107.9 L170.5,108.4 L171,109.68 L171.5,111.43 L172,113.31 L172.5,115 L173,116.81 L173.5,118.88 L174,120.66 L174.5,121.57 L175,121.29 L175.5,120.2 L176,118.61 L176.5,116.84 L177,115.2 L177.5,114 L178,113.1 L178.5,112.2 L179,111.39 L179.5,110.75 L180,110.37 L180.5,110.3 L181,110.3 L181.5,110.3 L182,110.3 L182.5,110.3 L183,110.3 L183.5,110.3 L184,110.3 L184.5,110.47 L185,110.93 L185.5,111.6 L186,112.38 L186.5,113.21 L187,114 L187.5,114.94 L188,116.13 L188.5,117.32 L189,118.27 L189.5,118.73 L190,117.35 L190.5,113.41 L191,110 L191.5,107.9 L192,105.97 L192.5,104.55 L193,104 L193.5,104.13 L194,104.49 L194.5,105.01 L195,105.64 L195.5,106.32 L196,107 L196.5,107.78 L197,108.73 L197.5,109.77 L198,110.8 L198.5,111.73 L199,112.54 L199.5,113.3 L200,114.02 L200.5,114.72 L201,115.37 L201.5,116 L202,116.67 L202.5,117.38 L203,118.05 L203.5,118.58 L204,118.87 L204.5,118.88 L205,118.75 L205.5,118.52 L206,118.2 L206.5,117.81 L207,117.35 L207.5,116.86 L208,116.33 L208.5,115.79 L209,115.24 L209.5,114.71 L210,114.19 L210.5,113.6 L211,112.96 L211.5,112.28 L212,111.62 L212.5,111 L213,110.35 L213.5,109.63 L214,108.94 L214.5,108.35 L215,107.96 L215.5,107.86 L216,108.03 L216.5,108.42 L217,108.98 L217.5,109.67 L218,110.45 L218.5,111.27 L219,112.1 L219.5,112.89 L220,113.6 L220.5,114.3 L221,115.04 L221.5,115.78 L222,116.45 L222.5,117 L223,117.49 L223.5,117.94 L224,118.24 L224.5,118.24 L225,117.64 L225.5,116.63 L226,115.49 L226.5,114.5 L227,113.57 L227.5,112.55 L228,111.63 L228.5,110.98 L229,110.82 L229.5,111.58 L230,113.13 L230.5,115.12 L231,117.19 L231.5,119 L232,120.77 L232.5,122.79 L233,124.77 L233.5,126.4 L234,127.41 L234.5,127.52 L235,126.71 L235.5,125.25 L236,123.46 L236.5,121.61 L237,120 L237.5,118.63 L238,117.27 L238.5,115.92 L239,114.54 L239.5,113.1 L240,111.47 L240.5,109.75 L241,108.19 L241.5,107 L242,106.07 L242.5,105.2 L243,104.5 L243.5,104.08 L244,104.05 L244.5,104.51 L245,105.35 L245.5,106.38 L246,107.43 L246.5,108.36 L247,109.28 L247.5,110.24 L248,111.25 L248.5,112.32 L249,113.49 L249.5,114.87 L250,116.29 L250.5,117.5 L251,118.46 L251.5,119.3 L252,120 L252.5,120.67 L253,121.33 L253.5,121.87 L254,122.17 L254.5,122.09 L255,121.49 L255.5,120.46 L256,119.15 L256.5,117.66 L257,116.14 L257.5,114.71 L258,113.5 L258.5,112.42 L259,111.34 L259.5,110.3 L260,109.34 L260.5,108.5 L261,107.69 L261.5,106.87 L262,106.12 L262.5,105.57 L263,105.31 L263.5,105.68 L264,106.91 L264.5,108.42 L265,109.9 L265.5,111.62 L266,113.53 L266.5,115.56 L267,117.66 L267.5,119.76 L268,121.88 L268.5,124.47 L269,127.33 L269.5,130.03 L270,132.19 L270.5,133.38 L271,133.01 L271.5,130.54 L272,127.11 L272.5,124 L273,121.53 L273.5,119.13 L274,116.7 L274.5,114.08 L275,111.3 L275.5,108.57 L276,106.07 L276.5,104 L277,102.15 L277.5,100.28 L278,98.55 L278.5,97.13 L279,96.16 L279.5,95.8 L280,96.35 L280.5,97.81 L281,99.86 L281.5,102.19 L282,104.5 L282.5,107 L283,109.95 L283.5,113.05 L284,116 L284.5,119.19 L285,122.76 L285.5,126.09 L286,128.54 L286.5,129.5 L287,129.27 L287.5,128.64 L288,127.7 L288.5,126.56 L289,125.29 L289.5,124 L290,122.46 L290.5,120.49 L291,118.3 L291.5,116.07 L292,114 L292.5,111.95 L293,109.85 L293.5,107.95 L294,106.5 L294.5,105.43 L295,104.56 L295.5,104 L296,103.65 L296.5,103.42 L297,103.53 L297.5,104.16 L298,105 L298.5,105.99 L299,107.25 L299.5,108.7 L300,110.23 L300.5,111.79 L301,113.51 L301.5,115.34 L302,117.2 L302.5,119 L303,121.06 L303.5,123.29 L304,124.99 L304.5,125.5 L305,125.5 L305.5,125.5 L306,125.5 L306.5,125.5 L307,125.5 L307.5,125.31 L308,124.85 L308.5,124.28 L309,123.75 L309.5,123.43 L310,123.62 L310.5,124.82 L311,126.71 L311.5,128.9 L312,131 L312.5,133.05 L313,135.32 L313.5,137.71 L314,140.12 L314.5,142.47 L315,144.98 L315.5,147.51 L316,149.72 L316.5,151.41 L317,153.02 L317.5,154.33 L318,154.98 L318.5,154.9 L319,154.55 L319.5,154.01 L320,153.36 L320.5,152.67 L321,152.03 L321.5,151.5 L322,151.02 L322.5,150.5 L323,149.99 L323.5,149.54 L324,149.2 L324.5,149.02 L325,149.09 L325.5,149.59 L326,150.41 L326.5,151.42 L327,152.49 L327.5,153.5 L328,154.47 L328.5,155.51 L329,156.62 L329.5,157.77 L330,158.97 L330.5,160.19 L331,161.44 L331.5,162.71 L332,164.02 L332.5,165.37 L333,166.77 L333.5,168.22 L334,169.74 L334.5,171.33 L335,173 L335.5,174.85 L336,176.92 L336.5,179.16 L337,181.5 L337.5,183.89 L338,186.27 L338.5,188.56 L339,190.72 L339.5,192.68 L340,194.42 L340.5,196.01 L341,197.49 L341.5,198.9 L342,200.25 L342.5,201.56 L343,202.86 L343.5,204.18 L344,205.54 L344.5,206.95 L345,208.45 L345.5,210.07 L346,211.84 L346.25,212.75" fill="none" stroke="#ff00ff" stroke-width="0.95" stroke-linejoin="round" stroke-linecap="round"/>
<g><polygon points="63.53,123.66 65.69,119.78 61.37,119.78" fill="#ff00ff"/><polygon points="68.56,151.84 70.72,147.95 66.4,147.95" fill="#ff00ff"/><polygon points="73.59,161.13 75.75,157.24 71.43,157.24" fill="#ff00ff"/><polygon points="78.62,146.04 80.78,142.15 76.46,142.15" fill="#ff00ff"/><polygon points="83.65,140.01 85.81,136.12 81.49,136.12" fill="#ff00ff"/><polygon points="88.68,136.94 90.84,133.05 86.52,133.05" fill="#ff00ff"/><polygon points="93.71,133.71 95.87,129.83 91.55,129.83" fill="#ff00ff"/><polygon points="98.74,128.36 100.9,124.47 96.58,124.47" fill="#ff00ff"/><polygon points="103.77,133.93 105.93,130.04 101.61,130.04" fill="#ff00ff"/><polygon points="108.8,136.06 110.96,132.17 106.64,132.17" fill="#ff00ff"/><polygon points="113.83,132.3 115.99,128.42 111.67,128.42" fill="#ff00ff"/><polygon points="118.86,127.17 121.02,123.28 116.7,123.28" fill="#ff00ff"/><polygon points="123.89,125.55 126.05,121.67 121.73,121.67" fill="#ff00ff"/><polygon points="128.92,117.48 131.08,113.6 126.76,113.6" fill="#ff00ff"/><polygon points="133.95,125.6 136.11,121.71 131.79,121.71" fill="#ff00ff"/><polygon points="138.98,135.91 141.14,132.02 136.82,132.02" fill="#ff00ff"/><polygon points="144.01,125.75 146.17,121.86 141.85,121.86" fill="#ff00ff"/><polygon points="149.04,110.21 151.2,106.32 146.88,106.32" fill="#ff00ff"/><polygon points="154.07,105.99 156.23,102.11 151.91,102.11" fill="#ff00ff"/><polygon points="159.1,111.61 161.26,107.72 156.94,107.72" fill="#ff00ff"/><polygon points="164.13,122.53 166.29,118.64 161.97,118.64" fill="#ff00ff"/><polygon points="169.16,110.69 171.32,106.8 167,106.8" fill="#ff00ff"/><polygon points="174.19,123.3 176.35,119.41 172.03,119.41" fill="#ff00ff"/><polygon points="179.22,113.24 181.38,109.35 177.06,109.35" fill="#ff00ff"/><polygon points="184.25,112.5 186.41,108.62 182.09,108.62" fill="#ff00ff"/><polygon points="189.28,120.76 191.44,116.87 187.12,116.87" fill="#ff00ff"/><polygon points="194.31,106.95 196.47,103.06 192.15,103.06" fill="#ff00ff"/><polygon points="199.34,115.22 201.5,111.33 197.18,111.33" fill="#ff00ff"/><polygon points="204.37,121.05 206.53,117.16 202.21,117.16" fill="#ff00ff"/><polygon points="209.4,116.97 211.56,113.08 207.24,113.08" fill="#ff00ff"/><polygon points="214.43,110.58 216.59,106.69 212.27,106.69" fill="#ff00ff"/><polygon points="219.46,114.99 221.62,111.1 217.3,111.1" fill="#ff00ff"/><polygon points="224.49,120.4 226.65,116.52 222.33,116.52" fill="#ff00ff"/><polygon points="229.52,113.79 231.68,109.9 227.36,109.9" fill="#ff00ff"/><polygon points="234.55,129.64 236.71,125.75 232.39,125.75" fill="#ff00ff"/><polygon points="239.58,115.02 241.74,111.13 237.42,111.13" fill="#ff00ff"/><polygon points="244.61,106.83 246.77,102.94 242.45,102.94" fill="#ff00ff"/><polygon points="249.64,117.44 251.8,113.55 247.48,113.55" fill="#ff00ff"/><polygon points="254.67,124.1 256.83,120.21 252.51,120.21" fill="#ff00ff"/><polygon points="259.7,112.06 261.86,108.17 257.54,108.17" fill="#ff00ff"/><polygon points="264.73,111.23 266.89,107.34 262.57,107.34" fill="#ff00ff"/><polygon points="269.76,133.41 271.92,129.52 267.6,129.52" fill="#ff00ff"/><polygon points="274.79,114.64 276.95,110.75 272.63,110.75" fill="#ff00ff"/><polygon points="279.82,98.19 281.98,94.31 277.66,94.31" fill="#ff00ff"/><polygon points="284.85,123.85 287.01,119.96 282.69,119.96" fill="#ff00ff"/><polygon points="289.88,125.03 292.04,121.14 287.72,121.14" fill="#ff00ff"/><polygon points="294.91,106.86 297.07,102.97 292.75,102.97" fill="#ff00ff"/><polygon points="299.94,112.21 302.1,108.32 297.78,108.32" fill="#ff00ff"/><polygon points="304.97,127.66 307.13,123.77 302.81,123.77" fill="#ff00ff"/><polygon points="310,125.78 312.16,121.9 307.84,121.9" fill="#ff00ff"/><polygon points="315.03,147.29 317.19,143.4 312.87,143.4" fill="#ff00ff"/><polygon points="320.06,155.44 322.22,151.55 317.9,151.55" fill="#ff00ff"/><polygon points="325.09,151.31 327.25,147.42 322.93,147.42" fill="#ff00ff"/><polygon points="330.12,161.42 332.28,157.53 327.96,157.53" fill="#ff00ff"/><polygon points="335.15,175.69 337.31,171.8 332.99,171.8" fill="#ff00ff"/><polygon points="340.18,197.16 342.34,193.27 338.02,193.27" fill="#ff00ff"/><polygon points="345.21,211.27 347.37,207.38 343.05,207.38" fill="#ff00ff"/></g>
<path d="M58.75,202 L59.25,189.48 L59.75,178.87 L60.25,171.76 L60.75,165.51 L61.25,159.84 L61.75,155.08 L62.25,151.57 L62.75,149.66 L63.25,149.4 L63.75,149.4 L64.25,149.41 L64.75,149.42 L65.25,149.44 L65.75,149.45 L66.25,149.47 L66.75,149.49 L67.25,149.52 L67.75,149.58 L68.25,149.69 L68.75,149.83 L69.25,149.99 L69.75,150.17 L70.25,150.35 L70.75,150.54 L71.25,150.72 L71.75,150.89 L72.25,151.03 L72.75,151.14 L73.25,151.22 L73.75,151.25 L74.25,151.22 L74.75,151.11 L75.25,150.95 L75.75,150.72 L76.25,150.46 L76.75,150.16 L77.25,149.84 L77.75,149.51 L78.25,149.17 L78.75,148.81 L79.25,148.31 L79.75,147.69 L80.25,146.98 L80.75,146.21 L81.25,145.44 L81.75,144.7 L82.25,144.03 L82.75,143.47 L83.25,143.06 L83.75,142.83 L84.25,142.83 L84.75,143.05 L85.25,143.45 L85.75,143.97 L86.25,144.58 L86.75,145.22 L87.25,145.85 L87.75,146.43 L88.25,146.9 L88.75,147.21 L89.25,147.36 L89.75,147.47 L90.25,147.58 L90.75,147.68 L91.25,147.76 L91.75,147.84 L92.25,147.9 L92.75,147.95 L93.25,147.98 L93.75,148 L94.25,147.95 L94.75,147.62 L95.25,147.02 L95.75,146.23 L96.25,145.32 L96.75,144.35 L97.25,143.41 L97.75,142.56 L98.25,141.88 L98.75,141.43 L99.25,141.16 L99.75,140.9 L100.25,140.65 L100.75,140.43 L101.25,140.23 L101.75,140.05 L102.25,139.91 L102.75,139.8 L103.25,139.73 L103.75,139.7 L104.25,139.75 L104.75,139.91 L105.25,140.15 L105.75,140.45 L106.25,140.8 L106.75,141.16 L107.25,141.51 L107.75,141.83 L108.25,142.11 L108.75,142.3 L109.25,142.39 L109.75,142.33 L110.25,142 L110.75,141.45 L111.25,140.74 L111.75,139.92 L112.25,139.05 L112.75,138.18 L113.25,137.37 L113.75,136.64 L114.25,135.86 L114.75,135.03 L115.25,134.17 L115.75,133.32 L116.25,132.5 L116.75,131.73 L117.25,131.04 L117.75,130.45 L118.25,129.96 L118.75,129.46 L119.25,128.98 L119.75,128.51 L120.25,128.08 L120.75,127.71 L121.25,127.39 L121.75,127.16 L122.25,127.03 L122.75,127 L123.25,127 L123.75,127 L124.25,127.01 L124.75,127.1 L125.25,127.27 L125.75,127.51 L126.25,127.82 L126.75,128.17 L127.25,128.57 L127.75,129 L128.25,129.59 L128.75,130.44 L129.25,131.53 L129.75,132.81 L130.25,134.24 L130.75,135.91 L131.25,138.33 L131.75,141.15 L132.25,143.85 L132.75,146.14 L133.25,148.54 L133.75,150.24 L134.25,150.2 L134.75,148.22 L135.25,145.38 L135.75,142.61 L136.25,139.42 L136.75,135.98 L137.25,132.68 L137.75,129.45 L138.25,126.24 L138.75,123.3 L139.25,120.79 L139.75,118.47 L140.25,116.31 L140.75,114.38 L141.25,112.71 L141.75,111.31 L142.25,109.91 L142.75,108.67 L143.25,107.79 L143.75,107.51 L144.25,108.64 L144.75,111.22 L145.25,114.63 L145.75,118.28 L146.25,121.86 L146.75,126.48 L147.25,131.59 L147.75,136.27 L148.25,139.67 L148.75,141.47 L149.25,142.93 L149.75,144.14 L150.25,145.09 L150.75,145.77 L151.25,146.19 L151.75,146.55 L152.25,146.82 L152.75,146.98 L153.25,146.83 L153.75,145.58 L154.25,143.46 L154.75,140.88 L155.25,138.23 L155.75,135.73 L156.25,132.72 L156.75,129.34 L157.25,125.92 L157.75,122.78 L158.25,120.24 L158.75,118.63 L159.25,117.52 L159.75,116.48 L160.25,115.55 L160.75,114.76 L161.25,114.14 L161.75,113.71 L162.25,113.51 L162.75,113.64 L163.25,114.27 L163.75,115.24 L164.25,116.4 L164.75,117.7 L165.25,119.64 L165.75,122.03 L166.25,124.57 L166.75,126.96 L167.25,129.02 L167.75,131.27 L168.25,133.57 L168.75,135.67 L169.25,137.32 L169.75,138.27 L170.25,138.31 L170.75,137.63 L171.25,136.41 L171.75,134.8 L172.25,132.94 L172.75,130.98 L173.25,128.87 L173.75,125.87 L174.25,122.34 L174.75,118.86 L175.25,116.01 L175.75,114.16 L176.25,112.53 L176.75,111.03 L177.25,109.77 L177.75,108.87 L178.25,108.43 L178.75,108.6 L179.25,109.46 L179.75,110.82 L180.25,112.46 L180.75,114.18 L181.25,115.88 L181.75,118.03 L182.25,120.51 L182.75,123.05 L183.25,125.4 L183.75,127.3 L184.25,128.59 L184.75,129.67 L185.25,130.62 L185.75,131.46 L186.25,132.17 L186.75,132.75 L187.25,133.23 L187.75,133.7 L188.25,134.11 L188.75,134.45 L189.25,134.65 L189.75,134.68 L190.25,134.43 L190.75,133.91 L191.25,133.21 L191.75,132.39 L192.25,131.53 L192.75,130.68 L193.25,129.94 L193.75,129.36 L194.25,129.02 L194.75,128.86 L195.25,128.73 L195.75,128.63 L196.25,128.54 L196.75,128.46 L197.25,128.39 L197.75,128.32 L198.25,128.25 L198.75,128.16 L199.25,128.06 L199.75,127.94 L200.25,127.8 L200.75,127.65 L201.25,127.49 L201.75,127.32 L202.25,127.15 L202.75,126.97 L203.25,126.78 L203.75,126.59 L204.25,126.41 L204.75,126.23 L205.25,126.06 L205.75,125.88 L206.25,125.7 L206.75,125.51 L207.25,125.3 L207.75,125.06 L208.25,124.8 L208.75,124.5 L209.25,124.12 L209.75,123.6 L210.25,122.96 L210.75,122.26 L211.25,121.53 L211.75,120.83 L212.25,120.15 L212.75,119.33 L213.25,118.48 L213.75,117.75 L214.25,117.31 L214.75,117.3 L215.25,117.63 L215.75,118.19 L216.25,118.89 L216.75,119.61 L217.25,120.24 L217.75,120.74 L218.25,121.27 L218.75,121.79 L219.25,122.21 L219.75,122.46 L220.25,122.47 L220.75,122.27 L221.25,121.93 L221.75,121.54 L222.25,121.16 L222.75,120.84 L223.25,120.48 L223.75,120.11 L224.25,119.83 L224.75,119.7 L225.25,119.99 L225.75,120.85 L226.25,122.05 L226.75,123.37 L227.25,124.66 L227.75,126.22 L228.25,127.96 L228.75,129.72 L229.25,131.32 L229.75,132.65 L230.25,134.02 L230.75,135.41 L231.25,136.73 L231.75,137.92 L232.25,138.88 L232.75,139.53 L233.25,139.8 L233.75,139.52 L234.25,138.67 L234.75,137.39 L235.25,135.87 L235.75,134.24 L236.25,132.7 L236.75,131.33 L237.25,129.93 L237.75,128.47 L238.25,126.99 L238.75,125.5 L239.25,124.04 L239.75,122.64 L240.25,121.25 L240.75,119.82 L241.25,118.43 L241.75,117.13 L242.25,115.99 L242.75,115.02 L243.25,114.05 L243.75,113.2 L244.25,112.67 L244.75,112.71 L245.25,113.51 L245.75,114.8 L246.25,116.28 L246.75,117.75 L247.25,119.51 L247.75,121.47 L248.25,123.4 L248.75,125.4 L249.25,127.47 L249.75,129.28 L250.25,130.64 L250.75,131.93 L251.25,133.01 L251.75,133.66 L252.25,133.66 L252.75,133.03 L253.25,131.93 L253.75,130.55 L254.25,129.06 L254.75,127.63 L255.25,126.36 L255.75,124.85 L256.25,123.18 L256.75,121.53 L257.25,120.07 L257.75,118.98 L258.25,118.43 L258.75,118.57 L259.25,119.27 L259.75,120.33 L260.25,121.5 L260.75,122.57 L261.25,123.39 L261.75,124.24 L262.25,125.11 L262.75,125.89 L263.25,126.5 L263.75,126.85 L264.25,126.88 L264.75,126.76 L265.25,126.54 L265.75,126.25 L266.25,125.9 L266.75,125.53 L267.25,125.15 L267.75,124.79 L268.25,124.47 L268.75,124.21 L269.25,124.05 L269.75,124 L270.25,124.06 L270.75,124.2 L271.25,124.41 L271.75,124.65 L272.25,124.9 L272.75,125.15 L273.25,125.36 L273.75,125.52 L274.25,125.6 L274.75,125.59 L275.25,125.54 L275.75,125.45 L276.25,125.34 L276.75,125.21 L277.25,125.09 L277.75,124.96 L278.25,124.85 L278.75,124.76 L279.25,124.71 L279.75,124.72 L280.25,124.97 L280.75,125.45 L281.25,126.06 L281.75,126.7 L282.25,127.34 L282.75,128.22 L283.25,129.19 L283.75,130.02 L284.25,130.47 L284.75,130.4 L285.25,129.99 L285.75,129.35 L286.25,128.6 L286.75,127.84 L287.25,127.14 L287.75,126.25 L288.25,125.25 L288.75,124.3 L289.25,123.52 L289.75,123.06 L290.25,123 L290.75,123.04 L291.25,123.1 L291.75,123.19 L292.25,123.3 L292.75,123.42 L293.25,123.56 L293.75,123.71 L294.25,123.86 L294.75,124.02 L295.25,124.2 L295.75,124.43 L296.25,124.7 L296.75,125 L297.25,125.31 L297.75,125.63 L298.25,125.95 L298.75,126.25 L299.25,126.52 L299.75,126.78 L300.25,127.07 L300.75,127.37 L301.25,127.68 L301.75,127.97 L302.25,128.24 L302.75,128.47 L303.25,128.65 L303.75,128.76 L304.25,128.8 L304.75,128.64 L305.25,128.28 L305.75,127.79 L306.25,127.25 L306.75,126.73 L307.25,126.27 L307.75,125.71 L308.25,125.12 L308.75,124.58 L309.25,124.18 L309.75,124 L310.25,124.04 L310.75,124.18 L311.25,124.41 L311.75,124.71 L312.25,125.09 L312.75,125.51 L313.25,125.98 L313.75,126.49 L314.25,127.01 L314.75,127.56 L315.25,128.35 L315.75,129.49 L316.25,130.88 L316.75,132.43 L317.25,134.05 L317.75,135.63 L318.25,137.08 L318.75,138.31 L319.25,139.23 L319.75,139.73 L320.25,139.77 L320.75,139.54 L321.25,139.15 L321.75,138.68 L322.25,138.21 L322.75,137.8 L323.25,137.38 L323.75,136.93 L324.25,136.46 L324.75,135.95 L325.25,135.29 L325.75,134.57 L326.25,133.98 L326.75,133.67 L327.25,133.45 L327.75,133.44 L328.25,134.01 L328.75,134.98 L329.25,136.03 L329.75,137.35 L330.25,139.14 L330.75,142.08 L331.25,146.44 L331.75,151.48 L332.25,156.45 L332.75,160.82 L333.25,164.96 L333.75,168.92 L334.25,172.76 L334.75,176.53 L335.25,180.3 L335.75,184.21 L336.25,188.07 L336.75,191.64 L337.25,194.72 L337.75,197.16 L338.25,199.34 L338.75,201.27 L339.25,202.88 L339.75,204.1 L339.8,204.2 L341.6,201 L343.8,193.4" fill="none" stroke="#008000" stroke-width="0.95" stroke-linejoin="round" stroke-linecap="round"/>
<g><polygon points="58.75,200 60.75,202 58.75,204 56.75,202" fill="#008000"/><polygon points="63.53,147.4 65.53,149.4 63.53,151.4 61.53,149.4" fill="#008000"/><polygon points="68.56,147.77 70.56,149.77 68.56,151.77 66.56,149.77" fill="#008000"/><polygon points="73.59,149.25 75.59,151.25 73.59,153.25 71.59,151.25" fill="#008000"/><polygon points="78.62,146.91 80.62,148.91 78.62,150.91 76.62,148.91" fill="#008000"/><polygon points="83.65,140.86 85.65,142.86 83.65,144.86 81.65,142.86" fill="#008000"/><polygon points="88.68,145.18 90.68,147.18 88.68,149.18 86.68,147.18" fill="#008000"/><polygon points="93.71,146 95.71,148 93.71,150 91.71,148" fill="#008000"/><polygon points="98.74,139.44 100.74,141.44 98.74,143.44 96.74,141.44" fill="#008000"/><polygon points="103.77,137.7 105.77,139.7 103.77,141.7 101.77,139.7" fill="#008000"/><polygon points="108.8,140.31 110.8,142.31 108.8,144.31 106.8,142.31" fill="#008000"/><polygon points="113.83,134.52 115.83,136.52 113.83,138.52 111.83,136.52" fill="#008000"/><polygon points="118.86,127.36 120.86,129.36 118.86,131.36 116.86,129.36" fill="#008000"/><polygon points="123.89,125 125.89,127 123.89,129 121.89,127" fill="#008000"/><polygon points="128.92,128.79 130.92,130.79 128.92,132.79 126.92,130.79" fill="#008000"/><polygon points="133.95,148.49 135.95,150.49 133.95,152.49 131.95,150.49" fill="#008000"/><polygon points="138.98,120.1 140.98,122.1 138.98,124.1 136.98,122.1" fill="#008000"/><polygon points="144.01,105.88 146.01,107.88 144.01,109.88 142.01,107.88" fill="#008000"/><polygon points="149.04,140.35 151.04,142.35 149.04,144.35 147.04,142.35" fill="#008000"/><polygon points="154.07,142.3 156.07,144.3 154.07,146.3 152.07,144.3" fill="#008000"/><polygon points="159.1,115.85 161.1,117.85 159.1,119.85 157.1,117.85" fill="#008000"/><polygon points="164.13,114.11 166.13,116.11 164.13,118.11 162.13,116.11" fill="#008000"/><polygon points="169.16,135.07 171.16,137.07 169.16,139.07 167.16,137.07" fill="#008000"/><polygon points="174.19,120.77 176.19,122.77 174.19,124.77 172.19,122.77" fill="#008000"/><polygon points="179.22,107.39 181.22,109.39 179.22,111.39 177.22,109.39" fill="#008000"/><polygon points="184.25,126.59 186.25,128.59 184.25,130.59 182.25,128.59" fill="#008000"/><polygon points="189.28,132.66 191.28,134.66 189.28,136.66 187.28,134.66" fill="#008000"/><polygon points="194.31,127 196.31,129 194.31,131 192.31,129" fill="#008000"/><polygon points="199.34,126.04 201.34,128.04 199.34,130.04 197.34,128.04" fill="#008000"/><polygon points="204.37,124.36 206.37,126.36 204.37,128.36 202.37,126.36" fill="#008000"/><polygon points="209.4,121.98 211.4,123.98 209.4,125.98 207.4,123.98" fill="#008000"/><polygon points="214.43,115.26 216.43,117.26 214.43,119.26 212.43,117.26" fill="#008000"/><polygon points="219.46,120.34 221.46,122.34 219.46,124.34 217.46,122.34" fill="#008000"/><polygon points="224.49,117.74 226.49,119.74 224.49,121.74 222.49,119.74" fill="#008000"/><polygon points="229.52,130.05 231.52,132.05 229.52,134.05 227.52,132.05" fill="#008000"/><polygon points="234.55,135.94 236.55,137.94 234.55,139.94 232.55,137.94" fill="#008000"/><polygon points="239.58,121.11 241.58,123.11 239.58,125.11 237.58,123.11" fill="#008000"/><polygon points="244.61,110.62 246.61,112.62 244.61,114.62 242.61,112.62" fill="#008000"/><polygon points="249.64,126.92 251.64,128.92 249.64,130.92 247.64,128.92" fill="#008000"/><polygon points="254.67,125.85 256.67,127.85 254.67,129.85 252.67,127.85" fill="#008000"/><polygon points="259.7,118.21 261.7,120.21 259.7,122.21 257.7,120.21" fill="#008000"/><polygon points="264.73,124.77 266.73,126.77 264.73,128.77 262.73,126.77" fill="#008000"/><polygon points="269.76,122 271.76,124 269.76,126 267.76,124" fill="#008000"/><polygon points="274.79,123.59 276.79,125.59 274.79,127.59 272.79,125.59" fill="#008000"/><polygon points="279.82,122.73 281.82,124.73 279.82,126.73 277.82,124.73" fill="#008000"/><polygon points="284.85,128.35 286.85,130.35 284.85,132.35 282.85,130.35" fill="#008000"/><polygon points="289.88,121.02 291.88,123.02 289.88,125.02 287.88,123.02" fill="#008000"/><polygon points="294.91,122.07 296.91,124.07 294.91,126.07 292.91,124.07" fill="#008000"/><polygon points="299.94,124.89 301.94,126.89 299.94,128.89 297.94,126.89" fill="#008000"/><polygon points="304.97,126.51 306.97,128.51 304.97,130.51 302.97,128.51" fill="#008000"/><polygon points="310,122.01 312,124.01 310,126.01 308,124.01" fill="#008000"/><polygon points="315.03,125.95 317.03,127.95 315.03,129.95 313.03,127.95" fill="#008000"/><polygon points="320.06,137.8 322.06,139.8 320.06,141.8 318.06,139.8" fill="#008000"/><polygon points="325.09,133.52 327.09,135.52 325.09,137.52 323.09,135.52" fill="#008000"/><polygon points="330.12,136.62 332.12,138.62 330.12,140.62 328.12,138.62" fill="#008000"/><polygon points="335.15,177.53 337.15,179.53 335.15,181.53 333.15,179.53" fill="#008000"/><polygon points="339.8,202.2 341.8,204.2 339.8,206.2 337.8,204.2" fill="#008000"/></g>
<path d="M58.8,143.5 L59.3,143.3 L59.8,143.14 L60.3,143.02 L60.8,142.93 L61.3,142.87 L61.8,142.83 L62.3,142.81 L62.8,142.8 L63.3,142.8 L63.8,142.96 L64.3,143.85 L64.8,145.25 L65.3,146.88 L65.8,148.45 L66.3,149.85 L66.8,151.49 L67.3,153.29 L67.8,155.05 L68.3,156.61 L68.8,157.8 L69.3,158.44 L69.8,158.49 L70.3,158.41 L70.8,158.27 L71.3,158.08 L71.8,157.84 L72.3,157.57 L72.8,157.27 L73.3,156.95 L73.8,156.62 L74.3,156.29 L74.8,155.97 L75.3,155.61 L75.8,155.19 L76.3,154.72 L76.8,154.23 L77.3,153.71 L77.8,153.19 L78.3,152.68 L78.8,152.19 L79.3,151.71 L79.8,151.17 L80.3,150.59 L80.8,149.99 L81.3,149.4 L81.8,148.85 L82.3,148.36 L82.8,147.95 L83.3,147.66 L83.8,147.51 L84.3,147.53 L84.8,147.71 L85.3,148 L85.8,148.39 L86.3,148.81 L86.8,149.25 L87.3,149.65 L87.8,149.99 L88.3,150.22 L88.8,150.3 L89.3,150.21 L89.8,149.97 L90.3,149.63 L90.8,149.21 L91.3,148.77 L91.8,148.33 L92.3,147.95 L92.8,147.67 L93.3,147.51 L93.8,147.52 L94.3,147.66 L94.8,147.88 L95.3,148.17 L95.8,148.48 L96.3,148.79 L96.8,149.07 L97.3,149.28 L97.8,149.39 L98.3,149.34 L98.8,149 L99.3,148.42 L99.8,147.67 L100.3,146.83 L100.8,145.97 L101.3,145.16 L101.8,144.48 L102.3,143.98 L102.8,143.76 L103.3,143.83 L103.8,144.11 L104.3,144.52 L104.8,145 L105.3,145.48 L105.8,145.88 L106.3,146.17 L106.8,146.47 L107.3,146.76 L107.8,147.04 L108.3,147.26 L108.8,147.42 L109.3,147.5 L109.8,147.37 L110.3,146.88 L110.8,146.12 L111.3,145.19 L111.8,144.18 L112.3,143.19 L112.8,142.3 L113.3,141.54 L113.8,140.69 L114.3,139.8 L114.8,139 L115.3,138.37 L115.8,138.03 L116.3,138.06 L116.8,138.41 L117.3,139 L117.8,139.76 L118.3,140.6 L118.8,141.45 L119.3,142.22 L119.8,142.93 L120.3,143.77 L120.8,144.65 L121.3,145.47 L121.8,146.11 L122.3,146.47 L122.8,146.4 L123.3,145.87 L123.8,144.98 L124.3,143.86 L124.8,142.64 L125.3,141.43 L125.8,140.36 L126.3,139.47 L126.8,138.49 L127.3,137.48 L127.8,136.5 L128.3,135.63 L128.8,134.96 L129.3,134.57 L129.8,134.55 L130.3,135.05 L130.8,135.97 L131.3,137.13 L131.8,138.39 L132.3,139.58 L132.8,140.66 L133.3,141.95 L133.8,143.34 L134.3,144.66 L134.8,145.73 L135.3,146.38 L135.8,146.47 L136.3,146.17 L136.8,145.61 L137.3,144.89 L137.8,144.09 L138.3,143.29 L138.8,142.55 L139.3,141.7 L139.8,140.79 L140.3,139.86 L140.8,138.96 L141.3,138.15 L141.8,137.43 L142.3,136.74 L142.8,136.07 L143.3,135.42 L143.8,134.81 L144.3,134.23 L144.8,133.69 L145.3,133.19 L145.8,132.71 L146.3,132.21 L146.8,131.71 L147.3,131.22 L147.8,130.78 L148.3,130.41 L148.8,130.15 L149.3,130.01 L149.8,130.11 L150.3,130.68 L150.8,131.63 L151.3,132.79 L151.8,134 L152.3,135.12 L152.8,136.08 L153.3,137.18 L153.8,138.35 L154.3,139.46 L154.8,140.4 L155.3,141.06 L155.8,141.3 L156.3,141.17 L156.8,140.83 L157.3,140.32 L157.8,139.69 L158.3,138.98 L158.8,138.25 L159.3,137.22 L159.8,135.88 L160.3,134.39 L160.8,132.87 L161.3,131.49 L161.8,130.27 L162.3,128.93 L162.8,127.6 L163.3,126.43 L163.8,125.61 L164.3,125.3 L164.8,125.72 L165.3,126.8 L165.8,128.29 L166.3,129.93 L166.8,131.47 L167.3,132.81 L167.8,134.36 L168.3,136 L168.8,137.51 L169.3,138.69 L169.8,139.34 L170.3,139.29 L170.8,138.7 L171.3,137.71 L171.8,136.45 L172.3,135.06 L172.8,133.68 L173.3,132.43 L173.8,131.35 L174.3,130.15 L174.8,128.86 L175.3,127.58 L175.8,126.4 L176.3,125.42 L176.8,124.73 L177.3,124.41 L177.8,124.55 L178.3,125.12 L178.8,126.01 L179.3,127.11 L179.8,128.31 L180.3,129.52 L180.8,130.61 L181.3,131.6 L181.8,132.75 L182.3,133.97 L182.8,135.09 L183.3,135.97 L183.8,136.45 L184.3,136.46 L184.8,136.26 L185.3,135.93 L185.8,135.53 L186.3,135.14 L186.8,134.77 L187.3,134.29 L187.8,133.76 L188.3,133.27 L188.8,132.89 L189.3,132.71 L189.8,132.78 L190.3,133.05 L190.8,133.44 L191.3,133.9 L191.8,134.34 L192.3,134.75 L192.8,135.26 L193.3,135.8 L193.8,136.28 L194.3,136.61 L194.8,136.69 L195.3,136.52 L195.8,136.14 L196.3,135.59 L196.8,134.91 L197.3,134.16 L197.8,133.37 L198.3,132.59 L198.8,131.85 L199.3,130.99 L199.8,130 L200.3,129.01 L200.8,128.13 L201.3,127.49 L201.8,127.08 L202.3,126.7 L202.8,126.38 L203.3,126.14 L203.8,126.01 L204.3,126.03 L204.8,126.18 L205.3,126.44 L205.8,126.77 L206.3,127.15 L206.8,127.55 L207.3,127.94 L207.8,128.29 L208.3,128.56 L208.8,128.73 L209.3,128.83 L209.8,128.91 L210.3,128.98 L210.8,129.04 L211.3,129.1 L211.8,129.18 L212.3,129.29 L212.8,129.44 L213.3,129.84 L213.8,130.49 L214.3,131.25 L214.8,131.96 L215.3,132.49 L215.8,132.7 L216.3,132.56 L216.8,132.19 L217.3,131.63 L217.8,130.92 L218.3,130.13 L218.8,129.29 L219.3,128.46 L219.8,127.68 L220.3,126.95 L220.8,126.07 L221.3,125.1 L221.8,124.1 L222.3,123.16 L222.8,122.35 L223.3,121.75 L223.8,121.43 L224.3,121.48 L224.8,121.93 L225.3,122.69 L225.8,123.63 L226.3,124.65 L226.8,125.64 L227.3,126.6 L227.8,127.85 L228.3,129.17 L228.8,130.29 L229.3,130.93 L229.8,130.94 L230.3,130.62 L230.8,130.13 L231.3,129.59 L231.8,129.13 L232.3,128.82 L232.8,128.51 L233.3,128.24 L233.8,128.05 L234.3,128.01 L234.8,128.4 L235.3,129.18 L235.8,130.17 L236.3,131.15 L236.8,132.03 L237.3,133 L237.8,134.01 L238.3,134.96 L238.8,135.75 L239.3,136.35 L239.8,136.92 L240.3,137.44 L240.8,137.82 L241.3,137.99 L241.8,137.93 L242.3,137.67 L242.8,137.24 L243.3,136.67 L243.8,136.02 L244.3,135.3 L244.8,134.54 L245.3,133.44 L245.8,132.02 L246.3,130.48 L246.8,129.01 L247.3,127.71 L247.8,126.25 L248.3,124.86 L248.8,123.81 L249.3,123.4 L249.8,124.02 L250.3,125.54 L250.8,127.49 L251.3,129.37 L251.8,130.88 L252.3,132.37 L252.8,133.84 L253.3,135.2 L253.8,136.39 L254.3,137.44 L254.8,138.53 L255.3,139.59 L255.8,140.55 L256.3,141.37 L256.8,141.96 L257.3,142.27 L257.8,142.19 L258.3,141.58 L258.8,140.53 L259.3,139.18 L259.8,137.65 L260.3,136.06 L260.8,134.55 L261.3,133.12 L261.8,131.47 L262.3,129.8 L262.8,128.41 L263.3,127.45 L263.8,126.56 L264.3,125.84 L264.8,125.44 L265.3,125.52 L265.8,126.16 L266.3,127.11 L266.8,128.13 L267.3,129.04 L267.8,129.99 L268.3,131 L268.8,132.06 L269.3,133.13 L269.8,134.22 L270.3,135.4 L270.8,136.64 L271.3,137.9 L271.8,139.08 L272.3,140.13 L272.8,141.04 L273.3,141.98 L273.8,142.89 L274.3,143.66 L274.8,144.2 L275.3,144.4 L275.8,144.17 L276.3,143.59 L276.8,142.83 L277.3,142.07 L277.8,141.42 L278.3,140.79 L278.8,140.13 L279.3,139.47 L279.8,138.78 L280.3,138.04 L280.8,137.19 L281.3,136.36 L281.8,135.69 L282.3,135.26 L282.8,134.9 L283.3,134.71 L283.8,135.04 L284.3,136.13 L284.8,137.5 L285.3,139.37 L285.8,141.69 L286.3,143.5 L286.8,144.63 L287.3,145.55 L287.8,146.27 L288.3,146.82 L288.8,147.31 L289.3,147.74 L289.8,148.04 L290.3,148.2 L290.8,148.26 L291.3,148.32 L291.8,148.36 L292.3,148.4 L292.8,148.44 L293.3,148.46 L293.8,148.48 L294.3,148.49 L294.8,148.5 L295.3,148.49 L295.8,148.43 L296.3,148.34 L296.8,148.22 L297.3,148.09 L297.8,147.96 L298.3,147.84 L298.8,147.75 L299.3,147.7 L299.8,147.74 L300.3,147.97 L300.8,148.35 L301.3,148.82 L301.8,149.31 L302.3,149.79 L302.8,150.32 L303.3,150.92 L303.8,151.59 L304.3,152.33 L304.8,153.15 L305.3,154.07 L305.8,155.17 L306.3,156.44 L306.8,157.85 L307.3,159.37 L307.8,161.03 L308.3,163 L308.8,165.15 L309.3,167.33 L309.8,169.4 L310.3,171.41 L310.8,173.4 L311.3,175.37 L311.8,177.26 L312.3,179.09 L312.8,180.91 L313.3,182.68 L313.8,184.37 L314.3,185.92 L314.8,187.34 L315.3,188.71 L315.8,190.01 L316.3,191.17 L316.8,192.16 L317.3,192.97 L317.8,193.72 L318.3,194.39 L318.8,194.98 L319.3,195.46 L319.8,195.8 L321.3,194.6 L323,191.5 L324.2,188" fill="none" stroke="#000080" stroke-width="0.95" stroke-linejoin="round" stroke-linecap="round"/>
<g><polygon points="56.88,143.5 60.34,141.58 60.34,145.42" fill="#000080"/><polygon points="61.61,142.8 65.07,140.88 65.07,144.72" fill="#000080"/><polygon points="66.64,157.29 70.1,155.37 70.1,159.21" fill="#000080"/><polygon points="71.67,156.76 75.13,154.84 75.13,158.68" fill="#000080"/><polygon points="76.7,152.36 80.16,150.44 80.16,154.28" fill="#000080"/><polygon points="81.73,147.54 85.19,145.62 85.19,149.46" fill="#000080"/><polygon points="86.76,150.29 90.22,148.37 90.22,152.21" fill="#000080"/><polygon points="91.79,147.51 95.25,145.59 95.25,149.43" fill="#000080"/><polygon points="96.82,149.05 100.28,147.13 100.28,150.97" fill="#000080"/><polygon points="101.85,144.09 105.31,142.17 105.31,146.01" fill="#000080"/><polygon points="106.88,147.42 110.34,145.5 110.34,149.34" fill="#000080"/><polygon points="111.91,140.63 115.37,138.71 115.37,142.55" fill="#000080"/><polygon points="116.94,141.54 120.4,139.62 120.4,143.46" fill="#000080"/><polygon points="121.97,144.8 125.43,142.88 125.43,146.72" fill="#000080"/><polygon points="127,134.84 130.46,132.92 130.46,136.76" fill="#000080"/><polygon points="132.03,143.75 135.49,141.83 135.49,145.67" fill="#000080"/><polygon points="137.06,142.26 140.52,140.34 140.52,144.18" fill="#000080"/><polygon points="142.09,134.56 145.55,132.64 145.55,136.48" fill="#000080"/><polygon points="147.12,130.07 150.58,128.15 150.58,131.99" fill="#000080"/><polygon points="152.15,138.96 155.61,137.04 155.61,140.88" fill="#000080"/><polygon points="157.18,137.68 160.64,135.76 160.64,139.6" fill="#000080"/><polygon points="162.21,125.34 165.67,123.42 165.67,127.26" fill="#000080"/><polygon points="167.24,138.4 170.7,136.48 170.7,140.32" fill="#000080"/><polygon points="172.27,130.42 175.73,128.5 175.73,132.34" fill="#000080"/><polygon points="177.3,126.92 180.76,125 180.76,128.84" fill="#000080"/><polygon points="182.33,136.47 185.79,134.55 185.79,138.39" fill="#000080"/><polygon points="187.36,132.71 190.82,130.79 190.82,134.63" fill="#000080"/><polygon points="192.39,136.61 195.85,134.69 195.85,138.53" fill="#000080"/><polygon points="197.42,130.92 200.88,129 200.88,132.84" fill="#000080"/><polygon points="202.45,126.04 205.91,124.12 205.91,127.96" fill="#000080"/><polygon points="207.48,128.85 210.94,126.93 210.94,130.77" fill="#000080"/><polygon points="212.51,131.44 215.97,129.52 215.97,133.36" fill="#000080"/><polygon points="217.54,128.2 221,126.28 221,130.12" fill="#000080"/><polygon points="222.57,121.61 226.03,119.69 226.03,123.53" fill="#000080"/><polygon points="227.6,131 231.06,129.08 231.06,132.92" fill="#000080"/><polygon points="232.63,128.14 236.09,126.22 236.09,130.06" fill="#000080"/><polygon points="237.66,136.67 241.12,134.75 241.12,138.59" fill="#000080"/><polygon points="242.69,134.83 246.15,132.91 246.15,136.75" fill="#000080"/><polygon points="247.72,123.7 251.18,121.78 251.18,125.62" fill="#000080"/><polygon points="252.75,138.24 256.21,136.32 256.21,140.16" fill="#000080"/><polygon points="257.78,137.96 261.24,136.04 261.24,139.88" fill="#000080"/><polygon points="262.81,125.47 266.27,123.55 266.27,127.39" fill="#000080"/><polygon points="267.84,134.13 271.3,132.21 271.3,136.05" fill="#000080"/><polygon points="272.87,144.19 276.33,142.27 276.33,146.11" fill="#000080"/><polygon points="277.9,138.75 281.36,136.83 281.36,140.67" fill="#000080"/><polygon points="282.93,137.64 286.39,135.72 286.39,139.56" fill="#000080"/><polygon points="287.96,148.08 291.42,146.16 291.42,150" fill="#000080"/><polygon points="292.99,148.5 296.45,146.58 296.45,150.42" fill="#000080"/><polygon points="298.02,147.79 301.48,145.87 301.48,149.71" fill="#000080"/><polygon points="303.05,153.45 306.51,151.53 306.51,155.37" fill="#000080"/><polygon points="308.08,170.2 311.54,168.28 311.54,172.12" fill="#000080"/><polygon points="313.11,187.98 316.57,186.06 316.57,189.9" fill="#000080"/><polygon points="317.88,195.8 321.34,193.88 321.34,197.72" fill="#000080"/></g>
<path d="M58.75,234 L59.25,229.03 L59.75,224.26 L60.25,219.79 L60.75,215.42 L61.25,211.14 L61.75,206.98 L62.25,202.99 L62.75,199.21 L63.25,195.67 L63.75,192.4 L64.25,189.37 L64.75,186.53 L65.25,183.84 L65.75,181.26 L66.25,178.72 L66.75,176.1 L67.25,173.59 L67.75,171.44 L68.25,169.88 L68.75,168.75 L69.25,167.83 L69.75,167.04 L70.25,166.34 L70.75,165.67 L71.25,165.01 L71.75,164.41 L72.25,163.89 L72.75,163.49 L73.25,163.22 L73.75,163 L74.25,162.81 L74.75,162.64 L75.25,162.5 L75.75,162.37 L76.25,162.24 L76.75,162.14 L77.25,162.05 L77.75,161.98 L78.25,161.89 L78.75,161.79 L79.25,161.65 L79.75,161.42 L80.25,160.99 L80.75,160.39 L81.25,159.68 L81.75,158.9 L82.25,158.11 L82.75,157.36 L83.25,156.7 L83.75,156.19 L84.25,155.84 L84.75,155.52 L85.25,155.23 L85.75,154.95 L86.25,154.69 L86.75,154.47 L87.25,154.28 L87.75,154.14 L88.25,154.03 L88.75,153.97 L89.25,153.93 L89.75,153.9 L90.25,153.87 L90.75,153.85 L91.25,153.82 L91.75,153.8 L92.25,153.78 L92.75,153.75 L93.25,153.72 L93.75,153.68 L94.25,153.63 L94.75,153.58 L95.25,153.52 L95.75,153.46 L96.25,153.4 L96.75,153.33 L97.25,153.26 L97.75,153.18 L98.25,153.1 L98.75,153.02 L99.25,152.93 L99.75,152.84 L100.25,152.75 L100.75,152.65 L101.25,152.55 L101.75,152.45 L102.25,152.35 L102.75,152.23 L103.25,152.09 L103.75,151.91 L104.25,151.64 L104.75,151.08 L105.25,150.32 L105.75,149.5 L106.25,148.78 L106.75,148.27 L107.25,147.82 L107.75,147.39 L108.25,146.98 L108.75,146.61 L109.25,146.32 L109.75,146.11 L110.25,146.01 L110.75,146.05 L111.25,146.29 L111.75,146.66 L112.25,147.09 L112.75,147.53 L113.25,147.91 L113.75,148.2 L114.25,148.48 L114.75,148.75 L115.25,149 L115.75,149.21 L116.25,149.39 L116.75,149.57 L117.25,149.73 L117.75,149.88 L118.25,149.97 L118.75,150 L119.25,149.97 L119.75,149.9 L120.25,149.8 L120.75,149.68 L121.25,149.56 L121.75,149.44 L122.25,149.29 L122.75,149.11 L123.25,148.92 L123.75,148.71 L124.25,148.48 L124.75,148.19 L125.25,147.86 L125.75,147.52 L126.25,147.2 L126.75,146.92 L127.25,146.69 L127.75,146.46 L128.25,146.25 L128.75,146.09 L129.25,146.01 L129.75,146.03 L130.25,146.17 L130.75,146.39 L131.25,146.64 L131.75,146.89 L132.25,147.11 L132.75,147.38 L133.25,147.66 L133.75,147.92 L134.25,148.11 L134.75,148.2 L135.25,148.14 L135.75,147.95 L136.25,147.69 L136.75,147.39 L137.25,147.12 L137.75,146.89 L138.25,146.63 L138.75,146.37 L139.25,146.15 L139.75,146.02 L140.25,146 L140.75,146 L141.25,146 L141.75,146 L142.25,146 L142.75,146 L143.25,146.01 L143.75,146.03 L144.25,146.06 L144.75,146.1 L145.25,146.14 L145.75,146.2 L146.25,146.26 L146.75,146.33 L147.25,146.39 L147.75,146.46 L148.25,146.54 L148.75,146.66 L149.25,146.81 L149.75,146.98 L150.25,147.17 L150.75,147.36 L151.25,147.55 L151.75,147.71 L152.25,147.85 L152.75,147.95 L153.25,148 L153.75,147.93 L154.25,147.64 L154.75,147.2 L155.25,146.69 L155.75,146.21 L156.25,145.8 L156.75,145.35 L157.25,144.89 L157.75,144.46 L158.25,144.15 L158.75,143.99 L159.25,143.92 L159.75,143.86 L160.25,143.8 L160.75,143.75 L161.25,143.71 L161.75,143.67 L162.25,143.64 L162.75,143.62 L163.25,143.61 L163.75,143.6 L164.25,143.61 L164.75,143.69 L165.25,143.83 L165.75,144.02 L166.25,144.24 L166.75,144.47 L167.25,144.71 L167.75,144.92 L168.25,145.1 L168.75,145.23 L169.25,145.3 L169.75,145.26 L170.25,145.07 L170.75,144.78 L171.25,144.45 L171.75,144.14 L172.25,143.87 L172.75,143.62 L173.25,143.37 L173.75,143.12 L174.25,142.87 L174.75,142.62 L175.25,142.36 L175.75,142.06 L176.25,141.74 L176.75,141.44 L177.25,141.16 L177.75,140.92 L178.25,140.77 L178.75,140.7 L179.25,140.74 L179.75,140.87 L180.25,141.06 L180.75,141.3 L181.25,141.57 L181.75,141.84 L182.25,142.1 L182.75,142.32 L183.25,142.49 L183.75,142.59 L184.25,142.6 L184.75,142.6 L185.25,142.6 L185.75,142.59 L186.25,142.59 L186.75,142.59 L187.25,142.58 L187.75,142.57 L188.25,142.57 L188.75,142.56 L189.25,142.55 L189.75,142.54 L190.25,142.53 L190.75,142.53 L191.25,142.52 L191.75,142.51 L192.25,142.49 L192.75,142.48 L193.25,142.47 L193.75,142.45 L194.25,142.43 L194.75,142.41 L195.25,142.39 L195.75,142.36 L196.25,142.33 L196.75,142.3 L197.25,142.26 L197.75,142.22 L198.25,142.18 L198.75,142.13 L199.25,142.08 L199.75,142.03 L200.25,141.96 L200.75,141.85 L201.25,141.7 L201.75,141.51 L202.25,141.29 L202.75,141.07 L203.25,140.83 L203.75,140.61 L204.25,140.39 L204.75,140.12 L205.25,139.81 L205.75,139.49 L206.25,139.16 L206.75,138.86 L207.25,138.59 L207.75,138.38 L208.25,138.24 L208.75,138.2 L209.25,138.39 L209.75,138.82 L210.25,139.41 L210.75,140.07 L211.25,140.71 L211.75,141.31 L212.25,142.05 L212.75,142.84 L213.25,143.52 L213.75,143.94 L214.25,143.96 L214.75,143.66 L215.25,143.19 L215.75,142.65 L216.25,142.18 L216.75,141.84 L217.25,141.52 L217.75,141.2 L218.25,140.92 L218.75,140.71 L219.25,140.61 L219.75,140.61 L220.25,140.65 L220.75,140.73 L221.25,140.83 L221.75,140.94 L222.25,141.07 L222.75,141.2 L223.25,141.33 L223.75,141.45 L224.25,141.56 L224.75,141.68 L225.25,141.82 L225.75,141.97 L226.25,142.12 L226.75,142.27 L227.25,142.41 L227.75,142.53 L228.25,142.63 L228.75,142.71 L229.25,142.74 L229.75,142.75 L230.25,142.72 L230.75,142.66 L231.25,142.58 L231.75,142.48 L232.25,142.37 L232.75,142.24 L233.25,142.1 L233.75,141.96 L234.25,141.81 L234.75,141.66 L235.25,141.52 L235.75,141.38 L236.25,141.26 L236.75,141.15 L237.25,141.05 L237.75,140.98 L238.25,140.93 L238.75,140.9 L239.25,140.9 L239.75,140.91 L240.25,140.92 L240.75,140.93 L241.25,140.95 L241.75,140.97 L242.25,141 L242.75,141.03 L243.25,141.06 L243.75,141.1 L244.25,141.14 L244.75,141.18 L245.25,141.23 L245.75,141.32 L246.25,141.5 L246.75,141.77 L247.25,142.11 L247.75,142.51 L248.25,142.94 L248.75,143.4 L249.25,143.85 L249.75,144.29 L250.25,144.71 L250.75,145.14 L251.25,145.59 L251.75,146.07 L252.25,146.55 L252.75,147.05 L253.25,147.55 L253.75,148.05 L254.25,148.55 L254.75,149.05 L255.25,149.54 L255.75,150.04 L256.25,150.55 L256.75,151.05 L257.25,151.56 L257.75,152.07 L258.25,152.58 L258.75,153.09 L259.25,153.6 L259.75,154.09 L260.25,154.55 L260.75,154.99 L261.25,155.42 L261.75,155.86 L262.25,156.32 L262.75,156.83 L263.25,157.4 L263.75,158.04 L264.25,158.8 L264.75,159.8 L265.25,161 L265.75,162.38 L266.25,163.88 L266.75,165.45 L267.25,167.05 L267.75,168.63 L268.25,170.15 L268.75,171.55 L269.25,172.82 L269.75,174.04 L270.25,175.23 L270.75,176.39 L271.25,177.53 L271.75,178.66 L272.25,179.77 L272.75,180.87 L273.25,181.97 L273.75,183.08 L274.25,184.18 L274.75,185.3 L275.25,186.43 L275.75,187.57 L276.25,188.71 L276.75,189.84 L277.25,190.97 L277.75,192.09 L278.25,193.18 L278.75,194.25 L279.25,195.29 L279.75,196.31 L280.25,197.33 L280.75,198.34 L281.25,199.34 L281.75,200.33 L282.25,201.3 L282.75,202.24 L283.25,203.15 L283.75,204.03 L284.25,204.85 L284.75,205.63 L285.25,206.37 L285.75,207.15 L286.25,207.94 L286.75,208.7 L287.25,209.39 L287.75,209.96 L288.25,210.38 L288.75,210.59 L289.25,210.66 L289.75,210.71 L290.25,210.75 L290.75,210.78 L291.25,210.8 L291.75,210.81 L292.25,210.83 L292.75,210.84 L293.25,210.86 L293.75,210.88 L294.25,210.91 L294.75,210.95 L295.25,211 L295.75,211.06 L296.25,211.21 L296.75,211.77 L297.25,212.58 L297.75,213.45 L298.25,214.53 L298.75,215.83 L299.25,217.32 L299.4,217.8" fill="none" stroke="#8000ff" stroke-width="0.95" stroke-linejoin="round" stroke-linecap="round"/>
<g><rect x="57.28" y="232.53" width="2.94" height="2.94" fill="#8000ff"/><rect x="62.06" y="192.33" width="2.94" height="2.94" fill="#8000ff"/><rect x="67.09" y="167.68" width="2.94" height="2.94" fill="#8000ff"/><rect x="72.12" y="161.59" width="2.94" height="2.94" fill="#8000ff"/><rect x="77.15" y="160.34" width="2.94" height="2.94" fill="#8000ff"/><rect x="82.18" y="154.81" width="2.94" height="2.94" fill="#8000ff"/><rect x="87.21" y="152.51" width="2.94" height="2.94" fill="#8000ff"/><rect x="92.24" y="152.21" width="2.94" height="2.94" fill="#8000ff"/><rect x="97.27" y="151.55" width="2.94" height="2.94" fill="#8000ff"/><rect x="102.3" y="150.43" width="2.94" height="2.94" fill="#8000ff"/><rect x="107.33" y="145.11" width="2.94" height="2.94" fill="#8000ff"/><rect x="112.36" y="146.77" width="2.94" height="2.94" fill="#8000ff"/><rect x="117.39" y="148.53" width="2.94" height="2.94" fill="#8000ff"/><rect x="122.42" y="147.18" width="2.94" height="2.94" fill="#8000ff"/><rect x="127.45" y="144.58" width="2.94" height="2.94" fill="#8000ff"/><rect x="132.48" y="146.54" width="2.94" height="2.94" fill="#8000ff"/><rect x="137.51" y="144.79" width="2.94" height="2.94" fill="#8000ff"/><rect x="142.54" y="144.57" width="2.94" height="2.94" fill="#8000ff"/><rect x="147.57" y="145.27" width="2.94" height="2.94" fill="#8000ff"/><rect x="152.6" y="146.29" width="2.94" height="2.94" fill="#8000ff"/><rect x="157.63" y="142.47" width="2.94" height="2.94" fill="#8000ff"/><rect x="162.66" y="142.13" width="2.94" height="2.94" fill="#8000ff"/><rect x="167.69" y="143.82" width="2.94" height="2.94" fill="#8000ff"/><rect x="172.72" y="141.43" width="2.94" height="2.94" fill="#8000ff"/><rect x="177.75" y="139.26" width="2.94" height="2.94" fill="#8000ff"/><rect x="182.78" y="141.13" width="2.94" height="2.94" fill="#8000ff"/><rect x="187.81" y="141.08" width="2.94" height="2.94" fill="#8000ff"/><rect x="192.84" y="140.96" width="2.94" height="2.94" fill="#8000ff"/><rect x="197.87" y="140.6" width="2.94" height="2.94" fill="#8000ff"/><rect x="202.9" y="138.85" width="2.94" height="2.94" fill="#8000ff"/><rect x="207.93" y="137.02" width="2.94" height="2.94" fill="#8000ff"/><rect x="212.96" y="142.41" width="2.94" height="2.94" fill="#8000ff"/><rect x="217.99" y="139.13" width="2.94" height="2.94" fill="#8000ff"/><rect x="223.02" y="140.14" width="2.94" height="2.94" fill="#8000ff"/><rect x="228.05" y="141.28" width="2.94" height="2.94" fill="#8000ff"/><rect x="233.08" y="140.25" width="2.94" height="2.94" fill="#8000ff"/><rect x="238.11" y="139.43" width="2.94" height="2.94" fill="#8000ff"/><rect x="243.14" y="139.7" width="2.94" height="2.94" fill="#8000ff"/><rect x="248.17" y="142.73" width="2.94" height="2.94" fill="#8000ff"/><rect x="253.2" y="147.5" width="2.94" height="2.94" fill="#8000ff"/><rect x="258.23" y="152.57" width="2.94" height="2.94" fill="#8000ff"/><rect x="263.26" y="158.28" width="2.94" height="2.94" fill="#8000ff"/><rect x="268.29" y="172.59" width="2.94" height="2.94" fill="#8000ff"/><rect x="273.32" y="183.92" width="2.94" height="2.94" fill="#8000ff"/><rect x="278.35" y="194.98" width="2.94" height="2.94" fill="#8000ff"/><rect x="283.38" y="204.31" width="2.94" height="2.94" fill="#8000ff"/><rect x="288.41" y="209.25" width="2.94" height="2.94" fill="#8000ff"/><rect x="293.44" y="209.49" width="2.94" height="2.94" fill="#8000ff"/></g>
<g font-family="'Liberation Sans', Arial, sans-serif" font-size="11.6" fill="#000" stroke="#000" stroke-width="0.25">
<text x="58.1" y="253.3" text-anchor="middle">0</text>
<text x="108.65" y="253.3" text-anchor="middle">200</text>
<text x="158.89" y="253.3" text-anchor="middle">400</text>
<text x="209.14" y="253.3" text-anchor="middle">600</text>
<text x="259.38" y="253.3" text-anchor="middle">800</text>
<text x="310.53" y="253.3" text-anchor="middle">1000</text>
<text x="360.78" y="253.3" text-anchor="middle">1200</text>
<text x="54.6" y="243.95" text-anchor="end">0.000</text>
<text x="54.6" y="197.29" text-anchor="end">0.005</text>
<text x="54.6" y="150.63" text-anchor="end">0.010</text>
<text x="54.6" y="103.97" text-anchor="end">0.015</text>
<text x="54.6" y="57.31" text-anchor="end">0.020</text>
<text x="54.6" y="10.65" text-anchor="end">0.025</text>
</g>
<text x="225.7" y="273" font-family="'Liberation Sans', Arial, sans-serif" font-size="13.7" text-anchor="middle" fill="#000" stroke="#000" stroke-width="0.25">Time/s</text>
<text transform="translate(14.5,189.9) rotate(-90)" font-family="'Liberation Sans', Arial, sans-serif" font-size="12.7" text-anchor="start" fill="#000" stroke="#000" stroke-width="0.25">Mass loss rate/kg<tspan font-size="7.2" dy="-5" dx="-1.8">−2</tspan><tspan dy="5" dx="2.5"> ms</tspan><tspan font-size="7.2" dy="-5" dx="-0.4">−1</tspan></text>
<g font-family="'Liberation Serif', 'Noto Serif CJK SC', serif" font-size="9.2" fill="#000" text-anchor="middle" stroke="#000" stroke-width="0.2">
<text transform="translate(68,216.2) scale(0.9,1)">Ⅰ</text>
<text transform="translate(161.2,216.2) scale(0.9,1)">Ⅱ</text>
<text transform="translate(308.2,216.4) scale(0.9,1)">Ⅲ</text>
</g>
<line x1="324.3" y1="19.75" x2="341.2" y2="19.75" stroke="#000000" stroke-width="0.95"/>
<rect x="331.15" y="18.15" width="3.2" height="3.2" fill="#000000"/>
<text x="344.1" y="22.55" font-family="'Liberation Sans', Arial, sans-serif" font-size="8.25" fill="#000" stroke="#000" stroke-width="0.08"><tspan font-style="italic">η</tspan> = 1</text>
<line x1="324.3" y1="28.6" x2="341.2" y2="28.6" stroke="#ff0000" stroke-width="0.95"/>
<circle cx="332.75" cy="28.6" r="1.76" fill="#ff0000"/>
<text x="344.1" y="31.4" font-family="'Liberation Sans', Arial, sans-serif" font-size="8.25" fill="#000" stroke="#000" stroke-width="0.08"><tspan font-style="italic">η</tspan> = 0.912</text>
<line x1="324.3" y1="37.45" x2="341.2" y2="37.45" stroke="#0000ff" stroke-width="0.95"/>
<polygon points="332.75,35.29 334.91,39.18 330.59,39.18" fill="#0000ff"/>
<text x="344.1" y="40.25" font-family="'Liberation Sans', Arial, sans-serif" font-size="8.25" fill="#000" stroke="#000" stroke-width="0.08"><tspan font-style="italic">η</tspan> = 0.812</text>
<line x1="324.3" y1="46.3" x2="341.2" y2="46.3" stroke="#ff00ff" stroke-width="0.95"/>
<polygon points="332.75,48.46 334.91,44.57 330.59,44.57" fill="#ff00ff"/>
<text x="344.1" y="49.1" font-family="'Liberation Sans', Arial, sans-serif" font-size="8.25" fill="#000" stroke="#000" stroke-width="0.08"><tspan font-style="italic">η</tspan> = 0.712</text>
<line x1="324.3" y1="55.15" x2="341.2" y2="55.15" stroke="#008000" stroke-width="0.95"/>
<polygon points="332.75,53.15 334.75,55.15 332.75,57.15 330.75,55.15" fill="#008000"/>
<text x="344.1" y="57.95" font-family="'Liberation Sans', Arial, sans-serif" font-size="8.25" fill="#000" stroke="#000" stroke-width="0.08"><tspan font-style="italic">η</tspan> = 0.612</text>
<line x1="324.3" y1="64" x2="341.2" y2="64" stroke="#000080" stroke-width="0.95"/>
<polygon points="330.83,64 334.29,62.08 334.29,65.92" fill="#000080"/>
<text x="344.1" y="66.8" font-family="'Liberation Sans', Arial, sans-serif" font-size="8.25" fill="#000" stroke="#000" stroke-width="0.08"><tspan font-style="italic">η</tspan> = 0.512</text>
<line x1="324.3" y1="72.85" x2="341.2" y2="72.85" stroke="#8000ff" stroke-width="0.95"/>
<rect x="331.28" y="71.38" width="2.94" height="2.94" fill="#8000ff"/>
<text x="344.1" y="75.65" font-family="'Liberation Sans', Arial, sans-serif" font-size="8.25" fill="#000" stroke="#000" stroke-width="0.08"><tspan font-style="italic">η</tspan> = 0.4</text>
</svg>
</body></html>
